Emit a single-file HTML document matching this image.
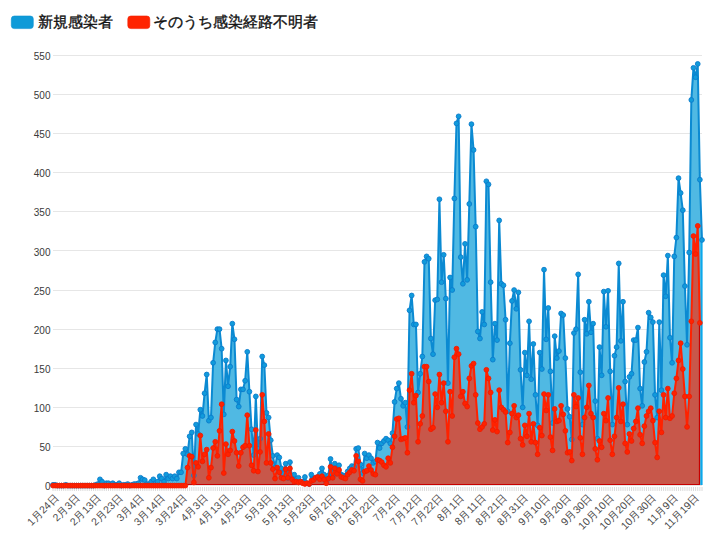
<!DOCTYPE html><html><head><meta charset="utf-8"><style>html,body{margin:0;padding:0;background:#fff;width:720px;height:534px;overflow:hidden}svg{display:block}text{font-family:"Liberation Sans",sans-serif}</style></head><body>
<svg width="720" height="534" viewBox="0 0 720 534">
<rect x="11.3" y="16" width="22" height="12.6" rx="3" fill="#0e9ad8" stroke="#0b90d0" stroke-width="0.6"/>
<text x="38" y="27.2" font-size="15" fill="#111" stroke="#111" stroke-width="0.35">新規感染者</text>
<rect x="127.8" y="16" width="22" height="12.6" rx="3" fill="#ff2400" stroke="#f01e00" stroke-width="0.6"/>
<text x="153" y="27.2" font-size="15" fill="#111" stroke="#111" stroke-width="0.35">そのうち感染経路不明者</text>
<line x1="53" x2="702" y1="485.50" y2="485.50" stroke="#e6e6e6" stroke-width="1"/>
<text x="50.5" y="490.20" font-size="10" fill="#3a3a3a" text-anchor="end">0</text>
<line x1="53" x2="702" y1="446.50" y2="446.50" stroke="#e6e6e6" stroke-width="1"/>
<text x="50.5" y="451.09" font-size="10" fill="#3a3a3a" text-anchor="end">50</text>
<line x1="53" x2="702" y1="407.50" y2="407.50" stroke="#e6e6e6" stroke-width="1"/>
<text x="50.5" y="411.97" font-size="10" fill="#3a3a3a" text-anchor="end">100</text>
<line x1="53" x2="702" y1="368.50" y2="368.50" stroke="#e6e6e6" stroke-width="1"/>
<text x="50.5" y="372.86" font-size="10" fill="#3a3a3a" text-anchor="end">150</text>
<line x1="53" x2="702" y1="329.50" y2="329.50" stroke="#e6e6e6" stroke-width="1"/>
<text x="50.5" y="333.74" font-size="10" fill="#3a3a3a" text-anchor="end">200</text>
<line x1="53" x2="702" y1="290.50" y2="290.50" stroke="#e6e6e6" stroke-width="1"/>
<text x="50.5" y="294.63" font-size="10" fill="#3a3a3a" text-anchor="end">250</text>
<line x1="53" x2="702" y1="250.50" y2="250.50" stroke="#e6e6e6" stroke-width="1"/>
<text x="50.5" y="255.51" font-size="10" fill="#3a3a3a" text-anchor="end">300</text>
<line x1="53" x2="702" y1="211.50" y2="211.50" stroke="#e6e6e6" stroke-width="1"/>
<text x="50.5" y="216.40" font-size="10" fill="#3a3a3a" text-anchor="end">350</text>
<line x1="53" x2="702" y1="172.50" y2="172.50" stroke="#e6e6e6" stroke-width="1"/>
<text x="50.5" y="177.28" font-size="10" fill="#3a3a3a" text-anchor="end">400</text>
<line x1="53" x2="702" y1="133.50" y2="133.50" stroke="#e6e6e6" stroke-width="1"/>
<text x="50.5" y="138.16" font-size="10" fill="#3a3a3a" text-anchor="end">450</text>
<line x1="53" x2="702" y1="94.50" y2="94.50" stroke="#e6e6e6" stroke-width="1"/>
<text x="50.5" y="99.05" font-size="10" fill="#3a3a3a" text-anchor="end">500</text>
<line x1="53" x2="702" y1="55.50" y2="55.50" stroke="#e6e6e6" stroke-width="1"/>
<text x="50.5" y="59.94" font-size="10" fill="#3a3a3a" text-anchor="end">550</text>
<line x1="53.00" x2="53.00" y1="487" y2="491" stroke="#d6d6d6" stroke-width="0.9"/>
<line x1="55.13" x2="55.13" y1="487" y2="491" stroke="#d6d6d6" stroke-width="0.9"/>
<line x1="57.27" x2="57.27" y1="487" y2="491" stroke="#d6d6d6" stroke-width="0.9"/>
<line x1="59.40" x2="59.40" y1="487" y2="491" stroke="#d6d6d6" stroke-width="0.9"/>
<line x1="61.54" x2="61.54" y1="487" y2="491" stroke="#d6d6d6" stroke-width="0.9"/>
<line x1="63.67" x2="63.67" y1="487" y2="491" stroke="#d6d6d6" stroke-width="0.9"/>
<line x1="65.81" x2="65.81" y1="487" y2="491" stroke="#d6d6d6" stroke-width="0.9"/>
<line x1="67.94" x2="67.94" y1="487" y2="491" stroke="#d6d6d6" stroke-width="0.9"/>
<line x1="70.08" x2="70.08" y1="487" y2="491" stroke="#d6d6d6" stroke-width="0.9"/>
<line x1="72.21" x2="72.21" y1="487" y2="491" stroke="#d6d6d6" stroke-width="0.9"/>
<line x1="74.35" x2="74.35" y1="487" y2="491" stroke="#d6d6d6" stroke-width="0.9"/>
<line x1="76.48" x2="76.48" y1="487" y2="491" stroke="#d6d6d6" stroke-width="0.9"/>
<line x1="78.62" x2="78.62" y1="487" y2="491" stroke="#d6d6d6" stroke-width="0.9"/>
<line x1="80.75" x2="80.75" y1="487" y2="491" stroke="#d6d6d6" stroke-width="0.9"/>
<line x1="82.89" x2="82.89" y1="487" y2="491" stroke="#d6d6d6" stroke-width="0.9"/>
<line x1="85.02" x2="85.02" y1="487" y2="491" stroke="#d6d6d6" stroke-width="0.9"/>
<line x1="87.16" x2="87.16" y1="487" y2="491" stroke="#d6d6d6" stroke-width="0.9"/>
<line x1="89.29" x2="89.29" y1="487" y2="491" stroke="#d6d6d6" stroke-width="0.9"/>
<line x1="91.43" x2="91.43" y1="487" y2="491" stroke="#d6d6d6" stroke-width="0.9"/>
<line x1="93.56" x2="93.56" y1="487" y2="491" stroke="#d6d6d6" stroke-width="0.9"/>
<line x1="95.70" x2="95.70" y1="487" y2="491" stroke="#d6d6d6" stroke-width="0.9"/>
<line x1="97.83" x2="97.83" y1="487" y2="491" stroke="#d6d6d6" stroke-width="0.9"/>
<line x1="99.97" x2="99.97" y1="487" y2="491" stroke="#d6d6d6" stroke-width="0.9"/>
<line x1="102.10" x2="102.10" y1="487" y2="491" stroke="#d6d6d6" stroke-width="0.9"/>
<line x1="104.24" x2="104.24" y1="487" y2="491" stroke="#d6d6d6" stroke-width="0.9"/>
<line x1="106.37" x2="106.37" y1="487" y2="491" stroke="#d6d6d6" stroke-width="0.9"/>
<line x1="108.51" x2="108.51" y1="487" y2="491" stroke="#d6d6d6" stroke-width="0.9"/>
<line x1="110.64" x2="110.64" y1="487" y2="491" stroke="#d6d6d6" stroke-width="0.9"/>
<line x1="112.78" x2="112.78" y1="487" y2="491" stroke="#d6d6d6" stroke-width="0.9"/>
<line x1="114.91" x2="114.91" y1="487" y2="491" stroke="#d6d6d6" stroke-width="0.9"/>
<line x1="117.05" x2="117.05" y1="487" y2="491" stroke="#d6d6d6" stroke-width="0.9"/>
<line x1="119.18" x2="119.18" y1="487" y2="491" stroke="#d6d6d6" stroke-width="0.9"/>
<line x1="121.32" x2="121.32" y1="487" y2="491" stroke="#d6d6d6" stroke-width="0.9"/>
<line x1="123.45" x2="123.45" y1="487" y2="491" stroke="#d6d6d6" stroke-width="0.9"/>
<line x1="125.59" x2="125.59" y1="487" y2="491" stroke="#d6d6d6" stroke-width="0.9"/>
<line x1="127.72" x2="127.72" y1="487" y2="491" stroke="#d6d6d6" stroke-width="0.9"/>
<line x1="129.86" x2="129.86" y1="487" y2="491" stroke="#d6d6d6" stroke-width="0.9"/>
<line x1="131.99" x2="131.99" y1="487" y2="491" stroke="#d6d6d6" stroke-width="0.9"/>
<line x1="134.12" x2="134.12" y1="487" y2="491" stroke="#d6d6d6" stroke-width="0.9"/>
<line x1="136.26" x2="136.26" y1="487" y2="491" stroke="#d6d6d6" stroke-width="0.9"/>
<line x1="138.39" x2="138.39" y1="487" y2="491" stroke="#d6d6d6" stroke-width="0.9"/>
<line x1="140.53" x2="140.53" y1="487" y2="491" stroke="#d6d6d6" stroke-width="0.9"/>
<line x1="142.66" x2="142.66" y1="487" y2="491" stroke="#d6d6d6" stroke-width="0.9"/>
<line x1="144.80" x2="144.80" y1="487" y2="491" stroke="#d6d6d6" stroke-width="0.9"/>
<line x1="146.93" x2="146.93" y1="487" y2="491" stroke="#d6d6d6" stroke-width="0.9"/>
<line x1="149.07" x2="149.07" y1="487" y2="491" stroke="#d6d6d6" stroke-width="0.9"/>
<line x1="151.20" x2="151.20" y1="487" y2="491" stroke="#d6d6d6" stroke-width="0.9"/>
<line x1="153.34" x2="153.34" y1="487" y2="491" stroke="#d6d6d6" stroke-width="0.9"/>
<line x1="155.47" x2="155.47" y1="487" y2="491" stroke="#d6d6d6" stroke-width="0.9"/>
<line x1="157.61" x2="157.61" y1="487" y2="491" stroke="#d6d6d6" stroke-width="0.9"/>
<line x1="159.74" x2="159.74" y1="487" y2="491" stroke="#d6d6d6" stroke-width="0.9"/>
<line x1="161.88" x2="161.88" y1="487" y2="491" stroke="#d6d6d6" stroke-width="0.9"/>
<line x1="164.01" x2="164.01" y1="487" y2="491" stroke="#d6d6d6" stroke-width="0.9"/>
<line x1="166.15" x2="166.15" y1="487" y2="491" stroke="#d6d6d6" stroke-width="0.9"/>
<line x1="168.28" x2="168.28" y1="487" y2="491" stroke="#d6d6d6" stroke-width="0.9"/>
<line x1="170.42" x2="170.42" y1="487" y2="491" stroke="#d6d6d6" stroke-width="0.9"/>
<line x1="172.55" x2="172.55" y1="487" y2="491" stroke="#d6d6d6" stroke-width="0.9"/>
<line x1="174.69" x2="174.69" y1="487" y2="491" stroke="#d6d6d6" stroke-width="0.9"/>
<line x1="176.82" x2="176.82" y1="487" y2="491" stroke="#d6d6d6" stroke-width="0.9"/>
<line x1="178.96" x2="178.96" y1="487" y2="491" stroke="#d6d6d6" stroke-width="0.9"/>
<line x1="181.09" x2="181.09" y1="487" y2="491" stroke="#d6d6d6" stroke-width="0.9"/>
<line x1="183.23" x2="183.23" y1="487" y2="491" stroke="#d6d6d6" stroke-width="0.9"/>
<line x1="185.36" x2="185.36" y1="487" y2="491" stroke="#d6d6d6" stroke-width="0.9"/>
<line x1="187.50" x2="187.50" y1="487" y2="491" stroke="#d6d6d6" stroke-width="0.9"/>
<line x1="189.63" x2="189.63" y1="487" y2="491" stroke="#d6d6d6" stroke-width="0.9"/>
<line x1="191.77" x2="191.77" y1="487" y2="491" stroke="#d6d6d6" stroke-width="0.9"/>
<line x1="193.90" x2="193.90" y1="487" y2="491" stroke="#d6d6d6" stroke-width="0.9"/>
<line x1="196.04" x2="196.04" y1="487" y2="491" stroke="#d6d6d6" stroke-width="0.9"/>
<line x1="198.17" x2="198.17" y1="487" y2="491" stroke="#d6d6d6" stroke-width="0.9"/>
<line x1="200.31" x2="200.31" y1="487" y2="491" stroke="#d6d6d6" stroke-width="0.9"/>
<line x1="202.44" x2="202.44" y1="487" y2="491" stroke="#d6d6d6" stroke-width="0.9"/>
<line x1="204.58" x2="204.58" y1="487" y2="491" stroke="#d6d6d6" stroke-width="0.9"/>
<line x1="206.71" x2="206.71" y1="487" y2="491" stroke="#d6d6d6" stroke-width="0.9"/>
<line x1="208.85" x2="208.85" y1="487" y2="491" stroke="#d6d6d6" stroke-width="0.9"/>
<line x1="210.98" x2="210.98" y1="487" y2="491" stroke="#d6d6d6" stroke-width="0.9"/>
<line x1="213.12" x2="213.12" y1="487" y2="491" stroke="#d6d6d6" stroke-width="0.9"/>
<line x1="215.25" x2="215.25" y1="487" y2="491" stroke="#d6d6d6" stroke-width="0.9"/>
<line x1="217.38" x2="217.38" y1="487" y2="491" stroke="#d6d6d6" stroke-width="0.9"/>
<line x1="219.52" x2="219.52" y1="487" y2="491" stroke="#d6d6d6" stroke-width="0.9"/>
<line x1="221.65" x2="221.65" y1="487" y2="491" stroke="#d6d6d6" stroke-width="0.9"/>
<line x1="223.79" x2="223.79" y1="487" y2="491" stroke="#d6d6d6" stroke-width="0.9"/>
<line x1="225.92" x2="225.92" y1="487" y2="491" stroke="#d6d6d6" stroke-width="0.9"/>
<line x1="228.06" x2="228.06" y1="487" y2="491" stroke="#d6d6d6" stroke-width="0.9"/>
<line x1="230.19" x2="230.19" y1="487" y2="491" stroke="#d6d6d6" stroke-width="0.9"/>
<line x1="232.33" x2="232.33" y1="487" y2="491" stroke="#d6d6d6" stroke-width="0.9"/>
<line x1="234.46" x2="234.46" y1="487" y2="491" stroke="#d6d6d6" stroke-width="0.9"/>
<line x1="236.60" x2="236.60" y1="487" y2="491" stroke="#d6d6d6" stroke-width="0.9"/>
<line x1="238.73" x2="238.73" y1="487" y2="491" stroke="#d6d6d6" stroke-width="0.9"/>
<line x1="240.87" x2="240.87" y1="487" y2="491" stroke="#d6d6d6" stroke-width="0.9"/>
<line x1="243.00" x2="243.00" y1="487" y2="491" stroke="#d6d6d6" stroke-width="0.9"/>
<line x1="245.14" x2="245.14" y1="487" y2="491" stroke="#d6d6d6" stroke-width="0.9"/>
<line x1="247.27" x2="247.27" y1="487" y2="491" stroke="#d6d6d6" stroke-width="0.9"/>
<line x1="249.41" x2="249.41" y1="487" y2="491" stroke="#d6d6d6" stroke-width="0.9"/>
<line x1="251.54" x2="251.54" y1="487" y2="491" stroke="#d6d6d6" stroke-width="0.9"/>
<line x1="253.68" x2="253.68" y1="487" y2="491" stroke="#d6d6d6" stroke-width="0.9"/>
<line x1="255.81" x2="255.81" y1="487" y2="491" stroke="#d6d6d6" stroke-width="0.9"/>
<line x1="257.95" x2="257.95" y1="487" y2="491" stroke="#d6d6d6" stroke-width="0.9"/>
<line x1="260.08" x2="260.08" y1="487" y2="491" stroke="#d6d6d6" stroke-width="0.9"/>
<line x1="262.22" x2="262.22" y1="487" y2="491" stroke="#d6d6d6" stroke-width="0.9"/>
<line x1="264.35" x2="264.35" y1="487" y2="491" stroke="#d6d6d6" stroke-width="0.9"/>
<line x1="266.49" x2="266.49" y1="487" y2="491" stroke="#d6d6d6" stroke-width="0.9"/>
<line x1="268.62" x2="268.62" y1="487" y2="491" stroke="#d6d6d6" stroke-width="0.9"/>
<line x1="270.76" x2="270.76" y1="487" y2="491" stroke="#d6d6d6" stroke-width="0.9"/>
<line x1="272.89" x2="272.89" y1="487" y2="491" stroke="#d6d6d6" stroke-width="0.9"/>
<line x1="275.03" x2="275.03" y1="487" y2="491" stroke="#d6d6d6" stroke-width="0.9"/>
<line x1="277.16" x2="277.16" y1="487" y2="491" stroke="#d6d6d6" stroke-width="0.9"/>
<line x1="279.30" x2="279.30" y1="487" y2="491" stroke="#d6d6d6" stroke-width="0.9"/>
<line x1="281.43" x2="281.43" y1="487" y2="491" stroke="#d6d6d6" stroke-width="0.9"/>
<line x1="283.57" x2="283.57" y1="487" y2="491" stroke="#d6d6d6" stroke-width="0.9"/>
<line x1="285.70" x2="285.70" y1="487" y2="491" stroke="#d6d6d6" stroke-width="0.9"/>
<line x1="287.84" x2="287.84" y1="487" y2="491" stroke="#d6d6d6" stroke-width="0.9"/>
<line x1="289.97" x2="289.97" y1="487" y2="491" stroke="#d6d6d6" stroke-width="0.9"/>
<line x1="292.11" x2="292.11" y1="487" y2="491" stroke="#d6d6d6" stroke-width="0.9"/>
<line x1="294.24" x2="294.24" y1="487" y2="491" stroke="#d6d6d6" stroke-width="0.9"/>
<line x1="296.38" x2="296.38" y1="487" y2="491" stroke="#d6d6d6" stroke-width="0.9"/>
<line x1="298.51" x2="298.51" y1="487" y2="491" stroke="#d6d6d6" stroke-width="0.9"/>
<line x1="300.64" x2="300.64" y1="487" y2="491" stroke="#d6d6d6" stroke-width="0.9"/>
<line x1="302.78" x2="302.78" y1="487" y2="491" stroke="#d6d6d6" stroke-width="0.9"/>
<line x1="304.91" x2="304.91" y1="487" y2="491" stroke="#d6d6d6" stroke-width="0.9"/>
<line x1="307.05" x2="307.05" y1="487" y2="491" stroke="#d6d6d6" stroke-width="0.9"/>
<line x1="309.18" x2="309.18" y1="487" y2="491" stroke="#d6d6d6" stroke-width="0.9"/>
<line x1="311.32" x2="311.32" y1="487" y2="491" stroke="#d6d6d6" stroke-width="0.9"/>
<line x1="313.45" x2="313.45" y1="487" y2="491" stroke="#d6d6d6" stroke-width="0.9"/>
<line x1="315.59" x2="315.59" y1="487" y2="491" stroke="#d6d6d6" stroke-width="0.9"/>
<line x1="317.72" x2="317.72" y1="487" y2="491" stroke="#d6d6d6" stroke-width="0.9"/>
<line x1="319.86" x2="319.86" y1="487" y2="491" stroke="#d6d6d6" stroke-width="0.9"/>
<line x1="321.99" x2="321.99" y1="487" y2="491" stroke="#d6d6d6" stroke-width="0.9"/>
<line x1="324.13" x2="324.13" y1="487" y2="491" stroke="#d6d6d6" stroke-width="0.9"/>
<line x1="326.26" x2="326.26" y1="487" y2="491" stroke="#d6d6d6" stroke-width="0.9"/>
<line x1="328.40" x2="328.40" y1="487" y2="491" stroke="#d6d6d6" stroke-width="0.9"/>
<line x1="330.53" x2="330.53" y1="487" y2="491" stroke="#d6d6d6" stroke-width="0.9"/>
<line x1="332.67" x2="332.67" y1="487" y2="491" stroke="#d6d6d6" stroke-width="0.9"/>
<line x1="334.80" x2="334.80" y1="487" y2="491" stroke="#d6d6d6" stroke-width="0.9"/>
<line x1="336.94" x2="336.94" y1="487" y2="491" stroke="#d6d6d6" stroke-width="0.9"/>
<line x1="339.07" x2="339.07" y1="487" y2="491" stroke="#d6d6d6" stroke-width="0.9"/>
<line x1="341.21" x2="341.21" y1="487" y2="491" stroke="#d6d6d6" stroke-width="0.9"/>
<line x1="343.34" x2="343.34" y1="487" y2="491" stroke="#d6d6d6" stroke-width="0.9"/>
<line x1="345.48" x2="345.48" y1="487" y2="491" stroke="#d6d6d6" stroke-width="0.9"/>
<line x1="347.61" x2="347.61" y1="487" y2="491" stroke="#d6d6d6" stroke-width="0.9"/>
<line x1="349.75" x2="349.75" y1="487" y2="491" stroke="#d6d6d6" stroke-width="0.9"/>
<line x1="351.88" x2="351.88" y1="487" y2="491" stroke="#d6d6d6" stroke-width="0.9"/>
<line x1="354.02" x2="354.02" y1="487" y2="491" stroke="#d6d6d6" stroke-width="0.9"/>
<line x1="356.15" x2="356.15" y1="487" y2="491" stroke="#d6d6d6" stroke-width="0.9"/>
<line x1="358.29" x2="358.29" y1="487" y2="491" stroke="#d6d6d6" stroke-width="0.9"/>
<line x1="360.42" x2="360.42" y1="487" y2="491" stroke="#d6d6d6" stroke-width="0.9"/>
<line x1="362.56" x2="362.56" y1="487" y2="491" stroke="#d6d6d6" stroke-width="0.9"/>
<line x1="364.69" x2="364.69" y1="487" y2="491" stroke="#d6d6d6" stroke-width="0.9"/>
<line x1="366.83" x2="366.83" y1="487" y2="491" stroke="#d6d6d6" stroke-width="0.9"/>
<line x1="368.96" x2="368.96" y1="487" y2="491" stroke="#d6d6d6" stroke-width="0.9"/>
<line x1="371.10" x2="371.10" y1="487" y2="491" stroke="#d6d6d6" stroke-width="0.9"/>
<line x1="373.23" x2="373.23" y1="487" y2="491" stroke="#d6d6d6" stroke-width="0.9"/>
<line x1="375.37" x2="375.37" y1="487" y2="491" stroke="#d6d6d6" stroke-width="0.9"/>
<line x1="377.50" x2="377.50" y1="487" y2="491" stroke="#d6d6d6" stroke-width="0.9"/>
<line x1="379.63" x2="379.63" y1="487" y2="491" stroke="#d6d6d6" stroke-width="0.9"/>
<line x1="381.77" x2="381.77" y1="487" y2="491" stroke="#d6d6d6" stroke-width="0.9"/>
<line x1="383.90" x2="383.90" y1="487" y2="491" stroke="#d6d6d6" stroke-width="0.9"/>
<line x1="386.04" x2="386.04" y1="487" y2="491" stroke="#d6d6d6" stroke-width="0.9"/>
<line x1="388.17" x2="388.17" y1="487" y2="491" stroke="#d6d6d6" stroke-width="0.9"/>
<line x1="390.31" x2="390.31" y1="487" y2="491" stroke="#d6d6d6" stroke-width="0.9"/>
<line x1="392.44" x2="392.44" y1="487" y2="491" stroke="#d6d6d6" stroke-width="0.9"/>
<line x1="394.58" x2="394.58" y1="487" y2="491" stroke="#d6d6d6" stroke-width="0.9"/>
<line x1="396.71" x2="396.71" y1="487" y2="491" stroke="#d6d6d6" stroke-width="0.9"/>
<line x1="398.85" x2="398.85" y1="487" y2="491" stroke="#d6d6d6" stroke-width="0.9"/>
<line x1="400.98" x2="400.98" y1="487" y2="491" stroke="#d6d6d6" stroke-width="0.9"/>
<line x1="403.12" x2="403.12" y1="487" y2="491" stroke="#d6d6d6" stroke-width="0.9"/>
<line x1="405.25" x2="405.25" y1="487" y2="491" stroke="#d6d6d6" stroke-width="0.9"/>
<line x1="407.39" x2="407.39" y1="487" y2="491" stroke="#d6d6d6" stroke-width="0.9"/>
<line x1="409.52" x2="409.52" y1="487" y2="491" stroke="#d6d6d6" stroke-width="0.9"/>
<line x1="411.66" x2="411.66" y1="487" y2="491" stroke="#d6d6d6" stroke-width="0.9"/>
<line x1="413.79" x2="413.79" y1="487" y2="491" stroke="#d6d6d6" stroke-width="0.9"/>
<line x1="415.93" x2="415.93" y1="487" y2="491" stroke="#d6d6d6" stroke-width="0.9"/>
<line x1="418.06" x2="418.06" y1="487" y2="491" stroke="#d6d6d6" stroke-width="0.9"/>
<line x1="420.20" x2="420.20" y1="487" y2="491" stroke="#d6d6d6" stroke-width="0.9"/>
<line x1="422.33" x2="422.33" y1="487" y2="491" stroke="#d6d6d6" stroke-width="0.9"/>
<line x1="424.47" x2="424.47" y1="487" y2="491" stroke="#d6d6d6" stroke-width="0.9"/>
<line x1="426.60" x2="426.60" y1="487" y2="491" stroke="#d6d6d6" stroke-width="0.9"/>
<line x1="428.74" x2="428.74" y1="487" y2="491" stroke="#d6d6d6" stroke-width="0.9"/>
<line x1="430.87" x2="430.87" y1="487" y2="491" stroke="#d6d6d6" stroke-width="0.9"/>
<line x1="433.01" x2="433.01" y1="487" y2="491" stroke="#d6d6d6" stroke-width="0.9"/>
<line x1="435.14" x2="435.14" y1="487" y2="491" stroke="#d6d6d6" stroke-width="0.9"/>
<line x1="437.28" x2="437.28" y1="487" y2="491" stroke="#d6d6d6" stroke-width="0.9"/>
<line x1="439.41" x2="439.41" y1="487" y2="491" stroke="#d6d6d6" stroke-width="0.9"/>
<line x1="441.55" x2="441.55" y1="487" y2="491" stroke="#d6d6d6" stroke-width="0.9"/>
<line x1="443.68" x2="443.68" y1="487" y2="491" stroke="#d6d6d6" stroke-width="0.9"/>
<line x1="445.82" x2="445.82" y1="487" y2="491" stroke="#d6d6d6" stroke-width="0.9"/>
<line x1="447.95" x2="447.95" y1="487" y2="491" stroke="#d6d6d6" stroke-width="0.9"/>
<line x1="450.09" x2="450.09" y1="487" y2="491" stroke="#d6d6d6" stroke-width="0.9"/>
<line x1="452.22" x2="452.22" y1="487" y2="491" stroke="#d6d6d6" stroke-width="0.9"/>
<line x1="454.36" x2="454.36" y1="487" y2="491" stroke="#d6d6d6" stroke-width="0.9"/>
<line x1="456.49" x2="456.49" y1="487" y2="491" stroke="#d6d6d6" stroke-width="0.9"/>
<line x1="458.62" x2="458.62" y1="487" y2="491" stroke="#d6d6d6" stroke-width="0.9"/>
<line x1="460.76" x2="460.76" y1="487" y2="491" stroke="#d6d6d6" stroke-width="0.9"/>
<line x1="462.89" x2="462.89" y1="487" y2="491" stroke="#d6d6d6" stroke-width="0.9"/>
<line x1="465.03" x2="465.03" y1="487" y2="491" stroke="#d6d6d6" stroke-width="0.9"/>
<line x1="467.16" x2="467.16" y1="487" y2="491" stroke="#d6d6d6" stroke-width="0.9"/>
<line x1="469.30" x2="469.30" y1="487" y2="491" stroke="#d6d6d6" stroke-width="0.9"/>
<line x1="471.43" x2="471.43" y1="487" y2="491" stroke="#d6d6d6" stroke-width="0.9"/>
<line x1="473.57" x2="473.57" y1="487" y2="491" stroke="#d6d6d6" stroke-width="0.9"/>
<line x1="475.70" x2="475.70" y1="487" y2="491" stroke="#d6d6d6" stroke-width="0.9"/>
<line x1="477.84" x2="477.84" y1="487" y2="491" stroke="#d6d6d6" stroke-width="0.9"/>
<line x1="479.97" x2="479.97" y1="487" y2="491" stroke="#d6d6d6" stroke-width="0.9"/>
<line x1="482.11" x2="482.11" y1="487" y2="491" stroke="#d6d6d6" stroke-width="0.9"/>
<line x1="484.24" x2="484.24" y1="487" y2="491" stroke="#d6d6d6" stroke-width="0.9"/>
<line x1="486.38" x2="486.38" y1="487" y2="491" stroke="#d6d6d6" stroke-width="0.9"/>
<line x1="488.51" x2="488.51" y1="487" y2="491" stroke="#d6d6d6" stroke-width="0.9"/>
<line x1="490.65" x2="490.65" y1="487" y2="491" stroke="#d6d6d6" stroke-width="0.9"/>
<line x1="492.78" x2="492.78" y1="487" y2="491" stroke="#d6d6d6" stroke-width="0.9"/>
<line x1="494.92" x2="494.92" y1="487" y2="491" stroke="#d6d6d6" stroke-width="0.9"/>
<line x1="497.05" x2="497.05" y1="487" y2="491" stroke="#d6d6d6" stroke-width="0.9"/>
<line x1="499.19" x2="499.19" y1="487" y2="491" stroke="#d6d6d6" stroke-width="0.9"/>
<line x1="501.32" x2="501.32" y1="487" y2="491" stroke="#d6d6d6" stroke-width="0.9"/>
<line x1="503.46" x2="503.46" y1="487" y2="491" stroke="#d6d6d6" stroke-width="0.9"/>
<line x1="505.59" x2="505.59" y1="487" y2="491" stroke="#d6d6d6" stroke-width="0.9"/>
<line x1="507.73" x2="507.73" y1="487" y2="491" stroke="#d6d6d6" stroke-width="0.9"/>
<line x1="509.86" x2="509.86" y1="487" y2="491" stroke="#d6d6d6" stroke-width="0.9"/>
<line x1="512.00" x2="512.00" y1="487" y2="491" stroke="#d6d6d6" stroke-width="0.9"/>
<line x1="514.13" x2="514.13" y1="487" y2="491" stroke="#d6d6d6" stroke-width="0.9"/>
<line x1="516.27" x2="516.27" y1="487" y2="491" stroke="#d6d6d6" stroke-width="0.9"/>
<line x1="518.40" x2="518.40" y1="487" y2="491" stroke="#d6d6d6" stroke-width="0.9"/>
<line x1="520.54" x2="520.54" y1="487" y2="491" stroke="#d6d6d6" stroke-width="0.9"/>
<line x1="522.67" x2="522.67" y1="487" y2="491" stroke="#d6d6d6" stroke-width="0.9"/>
<line x1="524.81" x2="524.81" y1="487" y2="491" stroke="#d6d6d6" stroke-width="0.9"/>
<line x1="526.94" x2="526.94" y1="487" y2="491" stroke="#d6d6d6" stroke-width="0.9"/>
<line x1="529.08" x2="529.08" y1="487" y2="491" stroke="#d6d6d6" stroke-width="0.9"/>
<line x1="531.21" x2="531.21" y1="487" y2="491" stroke="#d6d6d6" stroke-width="0.9"/>
<line x1="533.35" x2="533.35" y1="487" y2="491" stroke="#d6d6d6" stroke-width="0.9"/>
<line x1="535.48" x2="535.48" y1="487" y2="491" stroke="#d6d6d6" stroke-width="0.9"/>
<line x1="537.62" x2="537.62" y1="487" y2="491" stroke="#d6d6d6" stroke-width="0.9"/>
<line x1="539.75" x2="539.75" y1="487" y2="491" stroke="#d6d6d6" stroke-width="0.9"/>
<line x1="541.88" x2="541.88" y1="487" y2="491" stroke="#d6d6d6" stroke-width="0.9"/>
<line x1="544.02" x2="544.02" y1="487" y2="491" stroke="#d6d6d6" stroke-width="0.9"/>
<line x1="546.15" x2="546.15" y1="487" y2="491" stroke="#d6d6d6" stroke-width="0.9"/>
<line x1="548.29" x2="548.29" y1="487" y2="491" stroke="#d6d6d6" stroke-width="0.9"/>
<line x1="550.42" x2="550.42" y1="487" y2="491" stroke="#d6d6d6" stroke-width="0.9"/>
<line x1="552.56" x2="552.56" y1="487" y2="491" stroke="#d6d6d6" stroke-width="0.9"/>
<line x1="554.69" x2="554.69" y1="487" y2="491" stroke="#d6d6d6" stroke-width="0.9"/>
<line x1="556.83" x2="556.83" y1="487" y2="491" stroke="#d6d6d6" stroke-width="0.9"/>
<line x1="558.96" x2="558.96" y1="487" y2="491" stroke="#d6d6d6" stroke-width="0.9"/>
<line x1="561.10" x2="561.10" y1="487" y2="491" stroke="#d6d6d6" stroke-width="0.9"/>
<line x1="563.23" x2="563.23" y1="487" y2="491" stroke="#d6d6d6" stroke-width="0.9"/>
<line x1="565.37" x2="565.37" y1="487" y2="491" stroke="#d6d6d6" stroke-width="0.9"/>
<line x1="567.50" x2="567.50" y1="487" y2="491" stroke="#d6d6d6" stroke-width="0.9"/>
<line x1="569.64" x2="569.64" y1="487" y2="491" stroke="#d6d6d6" stroke-width="0.9"/>
<line x1="571.77" x2="571.77" y1="487" y2="491" stroke="#d6d6d6" stroke-width="0.9"/>
<line x1="573.91" x2="573.91" y1="487" y2="491" stroke="#d6d6d6" stroke-width="0.9"/>
<line x1="576.04" x2="576.04" y1="487" y2="491" stroke="#d6d6d6" stroke-width="0.9"/>
<line x1="578.18" x2="578.18" y1="487" y2="491" stroke="#d6d6d6" stroke-width="0.9"/>
<line x1="580.31" x2="580.31" y1="487" y2="491" stroke="#d6d6d6" stroke-width="0.9"/>
<line x1="582.45" x2="582.45" y1="487" y2="491" stroke="#d6d6d6" stroke-width="0.9"/>
<line x1="584.58" x2="584.58" y1="487" y2="491" stroke="#d6d6d6" stroke-width="0.9"/>
<line x1="586.72" x2="586.72" y1="487" y2="491" stroke="#d6d6d6" stroke-width="0.9"/>
<line x1="588.85" x2="588.85" y1="487" y2="491" stroke="#d6d6d6" stroke-width="0.9"/>
<line x1="590.99" x2="590.99" y1="487" y2="491" stroke="#d6d6d6" stroke-width="0.9"/>
<line x1="593.12" x2="593.12" y1="487" y2="491" stroke="#d6d6d6" stroke-width="0.9"/>
<line x1="595.26" x2="595.26" y1="487" y2="491" stroke="#d6d6d6" stroke-width="0.9"/>
<line x1="597.39" x2="597.39" y1="487" y2="491" stroke="#d6d6d6" stroke-width="0.9"/>
<line x1="599.53" x2="599.53" y1="487" y2="491" stroke="#d6d6d6" stroke-width="0.9"/>
<line x1="601.66" x2="601.66" y1="487" y2="491" stroke="#d6d6d6" stroke-width="0.9"/>
<line x1="603.80" x2="603.80" y1="487" y2="491" stroke="#d6d6d6" stroke-width="0.9"/>
<line x1="605.93" x2="605.93" y1="487" y2="491" stroke="#d6d6d6" stroke-width="0.9"/>
<line x1="608.07" x2="608.07" y1="487" y2="491" stroke="#d6d6d6" stroke-width="0.9"/>
<line x1="610.20" x2="610.20" y1="487" y2="491" stroke="#d6d6d6" stroke-width="0.9"/>
<line x1="612.34" x2="612.34" y1="487" y2="491" stroke="#d6d6d6" stroke-width="0.9"/>
<line x1="614.47" x2="614.47" y1="487" y2="491" stroke="#d6d6d6" stroke-width="0.9"/>
<line x1="616.61" x2="616.61" y1="487" y2="491" stroke="#d6d6d6" stroke-width="0.9"/>
<line x1="618.74" x2="618.74" y1="487" y2="491" stroke="#d6d6d6" stroke-width="0.9"/>
<line x1="620.88" x2="620.88" y1="487" y2="491" stroke="#d6d6d6" stroke-width="0.9"/>
<line x1="623.01" x2="623.01" y1="487" y2="491" stroke="#d6d6d6" stroke-width="0.9"/>
<line x1="625.14" x2="625.14" y1="487" y2="491" stroke="#d6d6d6" stroke-width="0.9"/>
<line x1="627.28" x2="627.28" y1="487" y2="491" stroke="#d6d6d6" stroke-width="0.9"/>
<line x1="629.41" x2="629.41" y1="487" y2="491" stroke="#d6d6d6" stroke-width="0.9"/>
<line x1="631.55" x2="631.55" y1="487" y2="491" stroke="#d6d6d6" stroke-width="0.9"/>
<line x1="633.68" x2="633.68" y1="487" y2="491" stroke="#d6d6d6" stroke-width="0.9"/>
<line x1="635.82" x2="635.82" y1="487" y2="491" stroke="#d6d6d6" stroke-width="0.9"/>
<line x1="637.95" x2="637.95" y1="487" y2="491" stroke="#d6d6d6" stroke-width="0.9"/>
<line x1="640.09" x2="640.09" y1="487" y2="491" stroke="#d6d6d6" stroke-width="0.9"/>
<line x1="642.22" x2="642.22" y1="487" y2="491" stroke="#d6d6d6" stroke-width="0.9"/>
<line x1="644.36" x2="644.36" y1="487" y2="491" stroke="#d6d6d6" stroke-width="0.9"/>
<line x1="646.49" x2="646.49" y1="487" y2="491" stroke="#d6d6d6" stroke-width="0.9"/>
<line x1="648.63" x2="648.63" y1="487" y2="491" stroke="#d6d6d6" stroke-width="0.9"/>
<line x1="650.76" x2="650.76" y1="487" y2="491" stroke="#d6d6d6" stroke-width="0.9"/>
<line x1="652.90" x2="652.90" y1="487" y2="491" stroke="#d6d6d6" stroke-width="0.9"/>
<line x1="655.03" x2="655.03" y1="487" y2="491" stroke="#d6d6d6" stroke-width="0.9"/>
<line x1="657.17" x2="657.17" y1="487" y2="491" stroke="#d6d6d6" stroke-width="0.9"/>
<line x1="659.30" x2="659.30" y1="487" y2="491" stroke="#d6d6d6" stroke-width="0.9"/>
<line x1="661.44" x2="661.44" y1="487" y2="491" stroke="#d6d6d6" stroke-width="0.9"/>
<line x1="663.57" x2="663.57" y1="487" y2="491" stroke="#d6d6d6" stroke-width="0.9"/>
<line x1="665.71" x2="665.71" y1="487" y2="491" stroke="#d6d6d6" stroke-width="0.9"/>
<line x1="667.84" x2="667.84" y1="487" y2="491" stroke="#d6d6d6" stroke-width="0.9"/>
<line x1="669.98" x2="669.98" y1="487" y2="491" stroke="#d6d6d6" stroke-width="0.9"/>
<line x1="672.11" x2="672.11" y1="487" y2="491" stroke="#d6d6d6" stroke-width="0.9"/>
<line x1="674.25" x2="674.25" y1="487" y2="491" stroke="#d6d6d6" stroke-width="0.9"/>
<line x1="676.38" x2="676.38" y1="487" y2="491" stroke="#d6d6d6" stroke-width="0.9"/>
<line x1="678.52" x2="678.52" y1="487" y2="491" stroke="#d6d6d6" stroke-width="0.9"/>
<line x1="680.65" x2="680.65" y1="487" y2="491" stroke="#d6d6d6" stroke-width="0.9"/>
<line x1="682.79" x2="682.79" y1="487" y2="491" stroke="#d6d6d6" stroke-width="0.9"/>
<line x1="684.92" x2="684.92" y1="487" y2="491" stroke="#d6d6d6" stroke-width="0.9"/>
<line x1="687.06" x2="687.06" y1="487" y2="491" stroke="#d6d6d6" stroke-width="0.9"/>
<line x1="689.19" x2="689.19" y1="487" y2="491" stroke="#d6d6d6" stroke-width="0.9"/>
<line x1="691.33" x2="691.33" y1="487" y2="491" stroke="#d6d6d6" stroke-width="0.9"/>
<line x1="693.46" x2="693.46" y1="487" y2="491" stroke="#d6d6d6" stroke-width="0.9"/>
<line x1="695.60" x2="695.60" y1="487" y2="491" stroke="#d6d6d6" stroke-width="0.9"/>
<line x1="697.73" x2="697.73" y1="487" y2="491" stroke="#d6d6d6" stroke-width="0.9"/>
<line x1="699.87" x2="699.87" y1="487" y2="491" stroke="#d6d6d6" stroke-width="0.9"/>
<line x1="702.00" x2="702.00" y1="487" y2="491" stroke="#d6d6d6" stroke-width="0.9"/>
<text transform="translate(59.50,498.3) rotate(-45)" font-size="10.5" fill="#4a4a4a" text-anchor="end">1月24日</text>
<text transform="translate(80.85,498.3) rotate(-45)" font-size="10.5" fill="#4a4a4a" text-anchor="end">2月3日</text>
<text transform="translate(102.20,498.3) rotate(-45)" font-size="10.5" fill="#4a4a4a" text-anchor="end">2月13日</text>
<text transform="translate(123.55,498.3) rotate(-45)" font-size="10.5" fill="#4a4a4a" text-anchor="end">2月23日</text>
<text transform="translate(144.89,498.3) rotate(-45)" font-size="10.5" fill="#4a4a4a" text-anchor="end">3月4日</text>
<text transform="translate(166.24,498.3) rotate(-45)" font-size="10.5" fill="#4a4a4a" text-anchor="end">3月14日</text>
<text transform="translate(187.59,498.3) rotate(-45)" font-size="10.5" fill="#4a4a4a" text-anchor="end">3月24日</text>
<text transform="translate(208.94,498.3) rotate(-45)" font-size="10.5" fill="#4a4a4a" text-anchor="end">4月3日</text>
<text transform="translate(230.29,498.3) rotate(-45)" font-size="10.5" fill="#4a4a4a" text-anchor="end">4月13日</text>
<text transform="translate(251.64,498.3) rotate(-45)" font-size="10.5" fill="#4a4a4a" text-anchor="end">4月23日</text>
<text transform="translate(272.99,498.3) rotate(-45)" font-size="10.5" fill="#4a4a4a" text-anchor="end">5月3日</text>
<text transform="translate(294.34,498.3) rotate(-45)" font-size="10.5" fill="#4a4a4a" text-anchor="end">5月13日</text>
<text transform="translate(315.68,498.3) rotate(-45)" font-size="10.5" fill="#4a4a4a" text-anchor="end">5月23日</text>
<text transform="translate(337.03,498.3) rotate(-45)" font-size="10.5" fill="#4a4a4a" text-anchor="end">6月2日</text>
<text transform="translate(358.38,498.3) rotate(-45)" font-size="10.5" fill="#4a4a4a" text-anchor="end">6月12日</text>
<text transform="translate(379.73,498.3) rotate(-45)" font-size="10.5" fill="#4a4a4a" text-anchor="end">6月22日</text>
<text transform="translate(401.08,498.3) rotate(-45)" font-size="10.5" fill="#4a4a4a" text-anchor="end">7月2日</text>
<text transform="translate(422.43,498.3) rotate(-45)" font-size="10.5" fill="#4a4a4a" text-anchor="end">7月12日</text>
<text transform="translate(443.78,498.3) rotate(-45)" font-size="10.5" fill="#4a4a4a" text-anchor="end">7月22日</text>
<text transform="translate(465.12,498.3) rotate(-45)" font-size="10.5" fill="#4a4a4a" text-anchor="end">8月1日</text>
<text transform="translate(486.47,498.3) rotate(-45)" font-size="10.5" fill="#4a4a4a" text-anchor="end">8月11日</text>
<text transform="translate(507.82,498.3) rotate(-45)" font-size="10.5" fill="#4a4a4a" text-anchor="end">8月21日</text>
<text transform="translate(529.17,498.3) rotate(-45)" font-size="10.5" fill="#4a4a4a" text-anchor="end">8月31日</text>
<text transform="translate(550.52,498.3) rotate(-45)" font-size="10.5" fill="#4a4a4a" text-anchor="end">9月10日</text>
<text transform="translate(571.87,498.3) rotate(-45)" font-size="10.5" fill="#4a4a4a" text-anchor="end">9月20日</text>
<text transform="translate(593.22,498.3) rotate(-45)" font-size="10.5" fill="#4a4a4a" text-anchor="end">9月30日</text>
<text transform="translate(614.57,498.3) rotate(-45)" font-size="10.5" fill="#4a4a4a" text-anchor="end">10月10日</text>
<text transform="translate(635.91,498.3) rotate(-45)" font-size="10.5" fill="#4a4a4a" text-anchor="end">10月20日</text>
<text transform="translate(657.26,498.3) rotate(-45)" font-size="10.5" fill="#4a4a4a" text-anchor="end">10月30日</text>
<text transform="translate(678.61,498.3) rotate(-45)" font-size="10.5" fill="#4a4a4a" text-anchor="end">11月9日</text>
<text transform="translate(699.96,498.3) rotate(-45)" font-size="10.5" fill="#4a4a4a" text-anchor="end">11月19日</text>
<polygon points="53.00,484.82 55.13,484.82 57.27,485.60 59.40,485.60 61.54,485.60 63.67,485.60 65.81,484.82 67.94,485.60 70.08,485.60 72.21,485.60 74.35,485.60 76.48,485.60 78.62,485.60 80.75,485.60 82.89,485.60 85.02,485.60 87.16,485.60 89.29,485.60 91.43,485.60 93.56,485.60 95.70,484.82 97.83,484.04 99.97,479.34 102.10,481.69 104.24,485.60 106.37,483.25 108.51,483.25 110.64,484.82 112.78,483.25 114.91,484.82 117.05,484.82 119.18,483.25 121.32,485.60 123.45,484.82 125.59,484.82 127.72,484.04 129.86,485.60 131.99,484.82 134.12,484.04 136.26,484.04 138.39,483.25 140.53,477.78 142.66,479.34 144.80,480.12 146.93,484.04 149.07,484.04 151.20,481.69 153.34,479.34 155.47,483.25 157.61,481.69 159.74,476.21 161.88,478.56 164.01,481.69 166.15,474.65 168.28,478.56 170.42,476.21 172.55,478.56 174.69,476.21 176.82,478.56 178.96,472.30 181.09,472.30 183.23,453.53 185.36,448.83 187.50,454.31 189.63,436.32 191.77,432.40 193.90,475.43 196.04,424.58 198.17,433.97 200.31,409.72 202.44,415.98 204.58,393.29 206.71,374.51 208.85,420.67 210.98,417.54 213.12,362.78 215.25,342.44 217.38,329.14 219.52,329.14 221.65,348.70 223.79,414.41 225.92,360.43 228.06,386.25 230.19,366.69 232.33,323.66 234.46,339.31 236.60,399.55 238.73,406.59 240.87,389.38 243.00,389.38 245.14,380.77 247.27,351.83 249.41,391.72 251.54,429.27 253.68,455.09 255.81,396.42 257.95,448.83 260.08,438.66 262.22,356.52 264.35,365.13 266.49,412.85 268.62,417.54 270.76,440.23 272.89,455.87 275.03,467.61 277.16,455.09 279.30,457.44 281.43,468.39 283.57,473.87 285.70,463.70 287.84,477.78 289.97,462.13 292.11,478.56 294.24,474.65 296.38,481.69 298.51,477.78 300.64,481.69 302.78,481.69 304.91,476.99 307.05,483.25 309.18,484.04 311.32,474.65 313.45,479.34 315.59,477.78 317.72,476.99 319.86,473.87 321.99,468.39 324.13,474.65 326.26,481.69 328.40,475.43 330.53,459.00 332.67,476.21 334.80,463.70 336.94,469.95 339.07,465.26 341.21,474.65 343.34,475.43 345.48,476.21 347.61,471.52 349.75,468.39 351.88,466.04 354.02,466.82 356.15,448.83 358.29,448.05 360.42,464.48 362.56,473.08 364.69,453.53 366.83,458.22 368.96,455.09 371.10,458.22 373.23,462.91 375.37,461.35 377.50,442.57 379.63,448.05 381.77,443.36 383.90,441.01 386.04,438.66 388.17,440.23 390.31,443.36 392.44,433.19 394.58,401.89 396.71,388.59 398.85,383.12 400.98,398.76 403.12,405.81 405.25,402.68 407.39,426.93 409.52,310.36 411.66,295.50 413.79,324.45 415.93,324.45 418.06,392.51 420.20,373.73 422.33,356.52 424.47,261.86 426.60,256.39 428.74,258.73 430.87,338.53 433.01,354.17 435.14,300.19 437.28,299.41 439.41,199.28 441.55,282.20 443.68,254.82 445.82,298.63 447.95,383.12 450.09,277.51 452.22,290.03 454.36,198.50 456.49,123.40 458.62,116.35 460.76,257.17 462.89,283.77 465.03,243.87 467.16,279.86 469.30,203.97 471.43,124.18 473.57,149.99 475.70,226.66 477.84,331.49 479.97,338.53 482.11,311.93 484.24,324.45 486.38,181.29 488.51,184.41 490.65,282.20 492.78,359.65 494.92,323.66 497.05,340.09 499.19,220.40 501.32,283.77 503.46,285.33 505.59,319.75 507.73,411.28 509.86,343.22 512.00,300.98 514.13,290.03 516.27,308.80 518.40,292.37 520.54,369.82 522.67,407.37 524.81,352.61 526.94,375.30 529.08,321.32 531.21,379.21 533.35,344.00 535.48,394.85 537.62,425.36 539.75,352.61 541.88,369.04 544.02,269.69 546.15,339.31 548.29,308.02 550.42,371.38 552.56,423.02 554.69,336.18 556.83,358.09 558.96,351.04 561.10,313.49 563.23,315.06 565.37,358.09 567.50,408.93 569.64,416.76 571.77,439.44 573.91,333.05 576.04,329.14 578.18,274.38 580.31,372.17 582.45,424.58 584.58,319.75 586.72,333.83 588.85,301.76 590.99,332.27 593.12,323.66 595.26,401.11 597.39,438.66 599.53,347.13 601.66,375.30 603.80,291.59 605.93,326.79 608.07,290.81 610.20,371.38 612.34,424.58 614.47,355.74 616.61,347.13 618.74,263.43 620.88,340.87 623.01,301.76 625.14,381.55 627.28,424.58 629.41,376.86 631.55,373.73 633.68,340.09 635.82,340.09 637.95,327.58 640.09,388.59 642.22,405.81 644.36,362.00 646.49,351.83 648.63,312.71 650.76,317.41 652.90,322.10 655.03,394.85 657.17,417.54 659.30,322.10 661.44,390.16 663.57,275.16 665.71,296.28 667.84,255.60 669.98,337.75 672.11,362.78 674.25,256.39 676.38,237.61 678.52,178.16 680.65,193.02 682.79,210.23 684.92,286.11 687.06,344.79 689.19,252.47 691.33,99.93 693.46,67.85 695.60,77.24 697.73,63.94 699.87,179.72 702.00,239.96 702.00,485.00 53.00,485.00" fill="#50b9e3"/>
<polygon points="53.00,485.60 55.13,485.60 57.27,485.60 59.40,485.60 61.54,485.60 63.67,485.60 65.81,485.60 67.94,485.60 70.08,485.60 72.21,485.60 74.35,485.60 76.48,485.60 78.62,485.60 80.75,485.60 82.89,485.60 85.02,485.60 87.16,485.60 89.29,485.60 91.43,485.60 93.56,485.60 95.70,485.60 97.83,485.60 99.97,485.60 102.10,485.60 104.24,485.60 106.37,485.60 108.51,485.60 110.64,485.60 112.78,485.60 114.91,485.60 117.05,485.60 119.18,485.60 121.32,485.60 123.45,485.60 125.59,485.60 127.72,485.60 129.86,485.60 131.99,485.60 134.12,485.60 136.26,485.60 138.39,485.60 140.53,485.60 142.66,485.60 144.80,485.60 146.93,485.60 149.07,485.60 151.20,485.60 153.34,485.60 155.47,485.60 157.61,485.60 159.74,485.60 161.88,485.60 164.01,485.60 166.15,485.60 168.28,485.60 170.42,485.60 172.55,485.60 174.69,485.60 176.82,485.60 178.96,485.60 181.09,485.60 183.23,485.60 185.36,485.60 187.50,467.61 189.63,455.87 191.77,456.65 193.90,482.47 196.04,462.91 198.17,466.82 200.31,435.53 202.44,461.35 204.58,454.31 206.71,449.61 208.85,477.78 210.98,467.61 213.12,448.05 215.25,441.79 217.38,455.87 219.52,430.84 221.65,404.24 223.79,473.08 225.92,444.14 228.06,454.31 230.19,450.40 232.33,431.62 234.46,441.01 236.60,452.74 238.73,466.04 240.87,452.74 243.00,447.27 245.14,445.70 247.27,415.19 249.41,445.70 251.54,465.26 253.68,470.74 255.81,430.06 257.95,471.52 260.08,451.96 262.22,394.85 264.35,421.45 266.49,462.91 268.62,433.97 270.76,462.91 272.89,469.17 275.03,478.56 277.16,467.61 279.30,472.30 281.43,477.78 283.57,478.56 285.70,469.17 287.84,477.78 289.97,468.39 292.11,479.34 294.24,481.69 296.38,481.69 298.51,482.47 300.64,481.69 302.78,483.25 304.91,484.04 307.05,483.25 309.18,484.04 311.32,480.91 313.45,480.12 315.59,477.78 317.72,476.99 319.86,479.34 321.99,476.21 324.13,479.34 326.26,483.25 328.40,478.56 330.53,466.82 332.67,477.78 334.80,468.39 336.94,473.87 339.07,469.95 341.21,476.99 343.34,477.78 345.48,478.56 347.61,474.65 349.75,472.30 351.88,469.95 354.02,470.74 356.15,455.87 358.29,461.35 360.42,479.34 362.56,480.91 364.69,471.52 366.83,470.74 368.96,466.04 371.10,469.95 373.23,473.87 375.37,474.65 377.50,459.78 379.63,460.57 381.77,462.13 383.90,465.26 386.04,466.82 388.17,458.22 390.31,462.91 392.44,447.27 394.58,436.32 396.71,419.10 398.85,418.32 400.98,439.44 403.12,438.66 405.25,437.88 407.39,452.74 409.52,390.16 411.66,373.73 413.79,402.68 415.93,395.64 418.06,441.79 420.20,423.80 422.33,415.98 424.47,366.69 426.60,366.69 428.74,381.55 430.87,429.27 433.01,427.71 435.14,394.07 437.28,407.37 439.41,374.51 441.55,402.68 443.68,383.12 445.82,411.28 447.95,441.79 450.09,391.72 452.22,415.98 454.36,357.30 456.49,348.70 458.62,354.17 460.76,396.42 462.89,391.72 465.03,403.46 467.16,406.59 469.30,378.42 471.43,365.91 473.57,363.56 475.70,394.85 477.84,423.02 479.97,429.27 482.11,426.93 484.24,423.80 486.38,369.82 488.51,378.42 490.65,392.51 492.78,430.06 494.92,419.89 497.05,431.62 499.19,390.16 501.32,407.37 503.46,409.72 505.59,412.06 507.73,442.57 509.86,432.40 512.00,413.63 514.13,405.81 516.27,417.54 518.40,415.19 520.54,438.66 522.67,444.92 524.81,425.36 526.94,436.32 529.08,413.63 531.21,441.79 533.35,423.80 535.48,442.57 537.62,454.31 539.75,427.71 541.88,435.53 544.02,394.07 546.15,410.50 548.29,394.85 550.42,437.10 552.56,450.40 554.69,408.93 556.83,421.45 558.96,420.67 561.10,405.81 563.23,414.41 565.37,430.84 567.50,452.74 569.64,451.96 571.77,460.57 573.91,394.85 576.04,406.59 578.18,397.98 580.31,437.88 582.45,454.31 584.58,417.54 586.72,407.37 588.85,385.47 590.99,413.63 593.12,417.54 595.26,448.83 597.39,459.78 599.53,441.01 601.66,447.27 603.80,413.63 605.93,420.67 608.07,397.98 610.20,440.23 612.34,454.31 614.47,436.32 616.61,417.54 618.74,387.81 620.88,421.45 623.01,404.24 625.14,443.36 627.28,451.96 629.41,433.97 631.55,441.01 633.68,428.49 635.82,421.45 637.95,408.15 640.09,434.75 642.22,443.36 644.36,426.15 646.49,415.98 648.63,411.28 650.76,408.15 652.90,420.67 655.03,442.57 657.17,457.44 659.30,411.28 661.44,432.40 663.57,394.85 665.71,417.54 667.84,388.59 669.98,418.32 672.11,415.98 674.25,393.29 676.38,378.42 678.52,360.43 680.65,343.22 682.79,369.04 684.92,396.42 687.06,426.93 689.19,396.42 691.33,321.32 693.46,236.05 695.60,254.04 697.73,225.88 699.87,322.88 699.87,485.00 53.00,485.00" fill="#c8574a"/>
<polyline points="52.00,484.5 699.47,484.5 699.47,322.88" fill="none" stroke="#c80000" stroke-width="1.2"/>
<line x1="701.70" x2="701.70" y1="239.96" y2="485.0" stroke="#0aa8ec" stroke-width="1.8"/>
<polyline points="53.00,484.82 55.13,484.82 57.27,485.60 59.40,485.60 61.54,485.60 63.67,485.60 65.81,484.82 67.94,485.60 70.08,485.60 72.21,485.60 74.35,485.60 76.48,485.60 78.62,485.60 80.75,485.60 82.89,485.60 85.02,485.60 87.16,485.60 89.29,485.60 91.43,485.60 93.56,485.60 95.70,484.82 97.83,484.04 99.97,479.34 102.10,481.69 104.24,485.60 106.37,483.25 108.51,483.25 110.64,484.82 112.78,483.25 114.91,484.82 117.05,484.82 119.18,483.25 121.32,485.60 123.45,484.82 125.59,484.82 127.72,484.04 129.86,485.60 131.99,484.82 134.12,484.04 136.26,484.04 138.39,483.25 140.53,477.78 142.66,479.34 144.80,480.12 146.93,484.04 149.07,484.04 151.20,481.69 153.34,479.34 155.47,483.25 157.61,481.69 159.74,476.21 161.88,478.56 164.01,481.69 166.15,474.65 168.28,478.56 170.42,476.21 172.55,478.56 174.69,476.21 176.82,478.56 178.96,472.30 181.09,472.30 183.23,453.53 185.36,448.83 187.50,454.31 189.63,436.32 191.77,432.40 193.90,475.43 196.04,424.58 198.17,433.97 200.31,409.72 202.44,415.98 204.58,393.29 206.71,374.51 208.85,420.67 210.98,417.54 213.12,362.78 215.25,342.44 217.38,329.14 219.52,329.14 221.65,348.70 223.79,414.41 225.92,360.43 228.06,386.25 230.19,366.69 232.33,323.66 234.46,339.31 236.60,399.55 238.73,406.59 240.87,389.38 243.00,389.38 245.14,380.77 247.27,351.83 249.41,391.72 251.54,429.27 253.68,455.09 255.81,396.42 257.95,448.83 260.08,438.66 262.22,356.52 264.35,365.13 266.49,412.85 268.62,417.54 270.76,440.23 272.89,455.87 275.03,467.61 277.16,455.09 279.30,457.44 281.43,468.39 283.57,473.87 285.70,463.70 287.84,477.78 289.97,462.13 292.11,478.56 294.24,474.65 296.38,481.69 298.51,477.78 300.64,481.69 302.78,481.69 304.91,476.99 307.05,483.25 309.18,484.04 311.32,474.65 313.45,479.34 315.59,477.78 317.72,476.99 319.86,473.87 321.99,468.39 324.13,474.65 326.26,481.69 328.40,475.43 330.53,459.00 332.67,476.21 334.80,463.70 336.94,469.95 339.07,465.26 341.21,474.65 343.34,475.43 345.48,476.21 347.61,471.52 349.75,468.39 351.88,466.04 354.02,466.82 356.15,448.83 358.29,448.05 360.42,464.48 362.56,473.08 364.69,453.53 366.83,458.22 368.96,455.09 371.10,458.22 373.23,462.91 375.37,461.35 377.50,442.57 379.63,448.05 381.77,443.36 383.90,441.01 386.04,438.66 388.17,440.23 390.31,443.36 392.44,433.19 394.58,401.89 396.71,388.59 398.85,383.12 400.98,398.76 403.12,405.81 405.25,402.68 407.39,426.93 409.52,310.36 411.66,295.50 413.79,324.45 415.93,324.45 418.06,392.51 420.20,373.73 422.33,356.52 424.47,261.86 426.60,256.39 428.74,258.73 430.87,338.53 433.01,354.17 435.14,300.19 437.28,299.41 439.41,199.28 441.55,282.20 443.68,254.82 445.82,298.63 447.95,383.12 450.09,277.51 452.22,290.03 454.36,198.50 456.49,123.40 458.62,116.35 460.76,257.17 462.89,283.77 465.03,243.87 467.16,279.86 469.30,203.97 471.43,124.18 473.57,149.99 475.70,226.66 477.84,331.49 479.97,338.53 482.11,311.93 484.24,324.45 486.38,181.29 488.51,184.41 490.65,282.20 492.78,359.65 494.92,323.66 497.05,340.09 499.19,220.40 501.32,283.77 503.46,285.33 505.59,319.75 507.73,411.28 509.86,343.22 512.00,300.98 514.13,290.03 516.27,308.80 518.40,292.37 520.54,369.82 522.67,407.37 524.81,352.61 526.94,375.30 529.08,321.32 531.21,379.21 533.35,344.00 535.48,394.85 537.62,425.36 539.75,352.61 541.88,369.04 544.02,269.69 546.15,339.31 548.29,308.02 550.42,371.38 552.56,423.02 554.69,336.18 556.83,358.09 558.96,351.04 561.10,313.49 563.23,315.06 565.37,358.09 567.50,408.93 569.64,416.76 571.77,439.44 573.91,333.05 576.04,329.14 578.18,274.38 580.31,372.17 582.45,424.58 584.58,319.75 586.72,333.83 588.85,301.76 590.99,332.27 593.12,323.66 595.26,401.11 597.39,438.66 599.53,347.13 601.66,375.30 603.80,291.59 605.93,326.79 608.07,290.81 610.20,371.38 612.34,424.58 614.47,355.74 616.61,347.13 618.74,263.43 620.88,340.87 623.01,301.76 625.14,381.55 627.28,424.58 629.41,376.86 631.55,373.73 633.68,340.09 635.82,340.09 637.95,327.58 640.09,388.59 642.22,405.81 644.36,362.00 646.49,351.83 648.63,312.71 650.76,317.41 652.90,322.10 655.03,394.85 657.17,417.54 659.30,322.10 661.44,390.16 663.57,275.16 665.71,296.28 667.84,255.60 669.98,337.75 672.11,362.78 674.25,256.39 676.38,237.61 678.52,178.16 680.65,193.02 682.79,210.23 684.92,286.11 687.06,344.79 689.19,252.47 691.33,99.93 693.46,67.85 695.60,77.24 697.73,63.94 699.87,179.72 702.00,239.96" fill="none" stroke="#0b8ad2" stroke-width="2" stroke-linejoin="round"/>
<g fill="#109bdb" stroke="#0b7ccc" stroke-width="0.9"><circle cx="53.00" cy="484.82" r="2.4"/><circle cx="55.13" cy="484.82" r="2.4"/><circle cx="57.27" cy="485.60" r="2.4"/><circle cx="59.40" cy="485.60" r="2.4"/><circle cx="61.54" cy="485.60" r="2.4"/><circle cx="63.67" cy="485.60" r="2.4"/><circle cx="65.81" cy="484.82" r="2.4"/><circle cx="67.94" cy="485.60" r="2.4"/><circle cx="70.08" cy="485.60" r="2.4"/><circle cx="72.21" cy="485.60" r="2.4"/><circle cx="74.35" cy="485.60" r="2.4"/><circle cx="76.48" cy="485.60" r="2.4"/><circle cx="78.62" cy="485.60" r="2.4"/><circle cx="80.75" cy="485.60" r="2.4"/><circle cx="82.89" cy="485.60" r="2.4"/><circle cx="85.02" cy="485.60" r="2.4"/><circle cx="87.16" cy="485.60" r="2.4"/><circle cx="89.29" cy="485.60" r="2.4"/><circle cx="91.43" cy="485.60" r="2.4"/><circle cx="93.56" cy="485.60" r="2.4"/><circle cx="95.70" cy="484.82" r="2.4"/><circle cx="97.83" cy="484.04" r="2.4"/><circle cx="99.97" cy="479.34" r="2.4"/><circle cx="102.10" cy="481.69" r="2.4"/><circle cx="104.24" cy="485.60" r="2.4"/><circle cx="106.37" cy="483.25" r="2.4"/><circle cx="108.51" cy="483.25" r="2.4"/><circle cx="110.64" cy="484.82" r="2.4"/><circle cx="112.78" cy="483.25" r="2.4"/><circle cx="114.91" cy="484.82" r="2.4"/><circle cx="117.05" cy="484.82" r="2.4"/><circle cx="119.18" cy="483.25" r="2.4"/><circle cx="121.32" cy="485.60" r="2.4"/><circle cx="123.45" cy="484.82" r="2.4"/><circle cx="125.59" cy="484.82" r="2.4"/><circle cx="127.72" cy="484.04" r="2.4"/><circle cx="129.86" cy="485.60" r="2.4"/><circle cx="131.99" cy="484.82" r="2.4"/><circle cx="134.12" cy="484.04" r="2.4"/><circle cx="136.26" cy="484.04" r="2.4"/><circle cx="138.39" cy="483.25" r="2.4"/><circle cx="140.53" cy="477.78" r="2.4"/><circle cx="142.66" cy="479.34" r="2.4"/><circle cx="144.80" cy="480.12" r="2.4"/><circle cx="146.93" cy="484.04" r="2.4"/><circle cx="149.07" cy="484.04" r="2.4"/><circle cx="151.20" cy="481.69" r="2.4"/><circle cx="153.34" cy="479.34" r="2.4"/><circle cx="155.47" cy="483.25" r="2.4"/><circle cx="157.61" cy="481.69" r="2.4"/><circle cx="159.74" cy="476.21" r="2.4"/><circle cx="161.88" cy="478.56" r="2.4"/><circle cx="164.01" cy="481.69" r="2.4"/><circle cx="166.15" cy="474.65" r="2.4"/><circle cx="168.28" cy="478.56" r="2.4"/><circle cx="170.42" cy="476.21" r="2.4"/><circle cx="172.55" cy="478.56" r="2.4"/><circle cx="174.69" cy="476.21" r="2.4"/><circle cx="176.82" cy="478.56" r="2.4"/><circle cx="178.96" cy="472.30" r="2.4"/><circle cx="181.09" cy="472.30" r="2.4"/><circle cx="183.23" cy="453.53" r="2.4"/><circle cx="185.36" cy="448.83" r="2.4"/><circle cx="187.50" cy="454.31" r="2.4"/><circle cx="189.63" cy="436.32" r="2.4"/><circle cx="191.77" cy="432.40" r="2.4"/><circle cx="193.90" cy="475.43" r="2.4"/><circle cx="196.04" cy="424.58" r="2.4"/><circle cx="198.17" cy="433.97" r="2.4"/><circle cx="200.31" cy="409.72" r="2.4"/><circle cx="202.44" cy="415.98" r="2.4"/><circle cx="204.58" cy="393.29" r="2.4"/><circle cx="206.71" cy="374.51" r="2.4"/><circle cx="208.85" cy="420.67" r="2.4"/><circle cx="210.98" cy="417.54" r="2.4"/><circle cx="213.12" cy="362.78" r="2.4"/><circle cx="215.25" cy="342.44" r="2.4"/><circle cx="217.38" cy="329.14" r="2.4"/><circle cx="219.52" cy="329.14" r="2.4"/><circle cx="221.65" cy="348.70" r="2.4"/><circle cx="223.79" cy="414.41" r="2.4"/><circle cx="225.92" cy="360.43" r="2.4"/><circle cx="228.06" cy="386.25" r="2.4"/><circle cx="230.19" cy="366.69" r="2.4"/><circle cx="232.33" cy="323.66" r="2.4"/><circle cx="234.46" cy="339.31" r="2.4"/><circle cx="236.60" cy="399.55" r="2.4"/><circle cx="238.73" cy="406.59" r="2.4"/><circle cx="240.87" cy="389.38" r="2.4"/><circle cx="243.00" cy="389.38" r="2.4"/><circle cx="245.14" cy="380.77" r="2.4"/><circle cx="247.27" cy="351.83" r="2.4"/><circle cx="249.41" cy="391.72" r="2.4"/><circle cx="251.54" cy="429.27" r="2.4"/><circle cx="253.68" cy="455.09" r="2.4"/><circle cx="255.81" cy="396.42" r="2.4"/><circle cx="257.95" cy="448.83" r="2.4"/><circle cx="260.08" cy="438.66" r="2.4"/><circle cx="262.22" cy="356.52" r="2.4"/><circle cx="264.35" cy="365.13" r="2.4"/><circle cx="266.49" cy="412.85" r="2.4"/><circle cx="268.62" cy="417.54" r="2.4"/><circle cx="270.76" cy="440.23" r="2.4"/><circle cx="272.89" cy="455.87" r="2.4"/><circle cx="275.03" cy="467.61" r="2.4"/><circle cx="277.16" cy="455.09" r="2.4"/><circle cx="279.30" cy="457.44" r="2.4"/><circle cx="281.43" cy="468.39" r="2.4"/><circle cx="283.57" cy="473.87" r="2.4"/><circle cx="285.70" cy="463.70" r="2.4"/><circle cx="287.84" cy="477.78" r="2.4"/><circle cx="289.97" cy="462.13" r="2.4"/><circle cx="292.11" cy="478.56" r="2.4"/><circle cx="294.24" cy="474.65" r="2.4"/><circle cx="296.38" cy="481.69" r="2.4"/><circle cx="298.51" cy="477.78" r="2.4"/><circle cx="300.64" cy="481.69" r="2.4"/><circle cx="302.78" cy="481.69" r="2.4"/><circle cx="304.91" cy="476.99" r="2.4"/><circle cx="307.05" cy="483.25" r="2.4"/><circle cx="309.18" cy="484.04" r="2.4"/><circle cx="311.32" cy="474.65" r="2.4"/><circle cx="313.45" cy="479.34" r="2.4"/><circle cx="315.59" cy="477.78" r="2.4"/><circle cx="317.72" cy="476.99" r="2.4"/><circle cx="319.86" cy="473.87" r="2.4"/><circle cx="321.99" cy="468.39" r="2.4"/><circle cx="324.13" cy="474.65" r="2.4"/><circle cx="326.26" cy="481.69" r="2.4"/><circle cx="328.40" cy="475.43" r="2.4"/><circle cx="330.53" cy="459.00" r="2.4"/><circle cx="332.67" cy="476.21" r="2.4"/><circle cx="334.80" cy="463.70" r="2.4"/><circle cx="336.94" cy="469.95" r="2.4"/><circle cx="339.07" cy="465.26" r="2.4"/><circle cx="341.21" cy="474.65" r="2.4"/><circle cx="343.34" cy="475.43" r="2.4"/><circle cx="345.48" cy="476.21" r="2.4"/><circle cx="347.61" cy="471.52" r="2.4"/><circle cx="349.75" cy="468.39" r="2.4"/><circle cx="351.88" cy="466.04" r="2.4"/><circle cx="354.02" cy="466.82" r="2.4"/><circle cx="356.15" cy="448.83" r="2.4"/><circle cx="358.29" cy="448.05" r="2.4"/><circle cx="360.42" cy="464.48" r="2.4"/><circle cx="362.56" cy="473.08" r="2.4"/><circle cx="364.69" cy="453.53" r="2.4"/><circle cx="366.83" cy="458.22" r="2.4"/><circle cx="368.96" cy="455.09" r="2.4"/><circle cx="371.10" cy="458.22" r="2.4"/><circle cx="373.23" cy="462.91" r="2.4"/><circle cx="375.37" cy="461.35" r="2.4"/><circle cx="377.50" cy="442.57" r="2.4"/><circle cx="379.63" cy="448.05" r="2.4"/><circle cx="381.77" cy="443.36" r="2.4"/><circle cx="383.90" cy="441.01" r="2.4"/><circle cx="386.04" cy="438.66" r="2.4"/><circle cx="388.17" cy="440.23" r="2.4"/><circle cx="390.31" cy="443.36" r="2.4"/><circle cx="392.44" cy="433.19" r="2.4"/><circle cx="394.58" cy="401.89" r="2.4"/><circle cx="396.71" cy="388.59" r="2.4"/><circle cx="398.85" cy="383.12" r="2.4"/><circle cx="400.98" cy="398.76" r="2.4"/><circle cx="403.12" cy="405.81" r="2.4"/><circle cx="405.25" cy="402.68" r="2.4"/><circle cx="407.39" cy="426.93" r="2.4"/><circle cx="409.52" cy="310.36" r="2.4"/><circle cx="411.66" cy="295.50" r="2.4"/><circle cx="413.79" cy="324.45" r="2.4"/><circle cx="415.93" cy="324.45" r="2.4"/><circle cx="418.06" cy="392.51" r="2.4"/><circle cx="420.20" cy="373.73" r="2.4"/><circle cx="422.33" cy="356.52" r="2.4"/><circle cx="424.47" cy="261.86" r="2.4"/><circle cx="426.60" cy="256.39" r="2.4"/><circle cx="428.74" cy="258.73" r="2.4"/><circle cx="430.87" cy="338.53" r="2.4"/><circle cx="433.01" cy="354.17" r="2.4"/><circle cx="435.14" cy="300.19" r="2.4"/><circle cx="437.28" cy="299.41" r="2.4"/><circle cx="439.41" cy="199.28" r="2.4"/><circle cx="441.55" cy="282.20" r="2.4"/><circle cx="443.68" cy="254.82" r="2.4"/><circle cx="445.82" cy="298.63" r="2.4"/><circle cx="447.95" cy="383.12" r="2.4"/><circle cx="450.09" cy="277.51" r="2.4"/><circle cx="452.22" cy="290.03" r="2.4"/><circle cx="454.36" cy="198.50" r="2.4"/><circle cx="456.49" cy="123.40" r="2.4"/><circle cx="458.62" cy="116.35" r="2.4"/><circle cx="460.76" cy="257.17" r="2.4"/><circle cx="462.89" cy="283.77" r="2.4"/><circle cx="465.03" cy="243.87" r="2.4"/><circle cx="467.16" cy="279.86" r="2.4"/><circle cx="469.30" cy="203.97" r="2.4"/><circle cx="471.43" cy="124.18" r="2.4"/><circle cx="473.57" cy="149.99" r="2.4"/><circle cx="475.70" cy="226.66" r="2.4"/><circle cx="477.84" cy="331.49" r="2.4"/><circle cx="479.97" cy="338.53" r="2.4"/><circle cx="482.11" cy="311.93" r="2.4"/><circle cx="484.24" cy="324.45" r="2.4"/><circle cx="486.38" cy="181.29" r="2.4"/><circle cx="488.51" cy="184.41" r="2.4"/><circle cx="490.65" cy="282.20" r="2.4"/><circle cx="492.78" cy="359.65" r="2.4"/><circle cx="494.92" cy="323.66" r="2.4"/><circle cx="497.05" cy="340.09" r="2.4"/><circle cx="499.19" cy="220.40" r="2.4"/><circle cx="501.32" cy="283.77" r="2.4"/><circle cx="503.46" cy="285.33" r="2.4"/><circle cx="505.59" cy="319.75" r="2.4"/><circle cx="507.73" cy="411.28" r="2.4"/><circle cx="509.86" cy="343.22" r="2.4"/><circle cx="512.00" cy="300.98" r="2.4"/><circle cx="514.13" cy="290.03" r="2.4"/><circle cx="516.27" cy="308.80" r="2.4"/><circle cx="518.40" cy="292.37" r="2.4"/><circle cx="520.54" cy="369.82" r="2.4"/><circle cx="522.67" cy="407.37" r="2.4"/><circle cx="524.81" cy="352.61" r="2.4"/><circle cx="526.94" cy="375.30" r="2.4"/><circle cx="529.08" cy="321.32" r="2.4"/><circle cx="531.21" cy="379.21" r="2.4"/><circle cx="533.35" cy="344.00" r="2.4"/><circle cx="535.48" cy="394.85" r="2.4"/><circle cx="537.62" cy="425.36" r="2.4"/><circle cx="539.75" cy="352.61" r="2.4"/><circle cx="541.88" cy="369.04" r="2.4"/><circle cx="544.02" cy="269.69" r="2.4"/><circle cx="546.15" cy="339.31" r="2.4"/><circle cx="548.29" cy="308.02" r="2.4"/><circle cx="550.42" cy="371.38" r="2.4"/><circle cx="552.56" cy="423.02" r="2.4"/><circle cx="554.69" cy="336.18" r="2.4"/><circle cx="556.83" cy="358.09" r="2.4"/><circle cx="558.96" cy="351.04" r="2.4"/><circle cx="561.10" cy="313.49" r="2.4"/><circle cx="563.23" cy="315.06" r="2.4"/><circle cx="565.37" cy="358.09" r="2.4"/><circle cx="567.50" cy="408.93" r="2.4"/><circle cx="569.64" cy="416.76" r="2.4"/><circle cx="571.77" cy="439.44" r="2.4"/><circle cx="573.91" cy="333.05" r="2.4"/><circle cx="576.04" cy="329.14" r="2.4"/><circle cx="578.18" cy="274.38" r="2.4"/><circle cx="580.31" cy="372.17" r="2.4"/><circle cx="582.45" cy="424.58" r="2.4"/><circle cx="584.58" cy="319.75" r="2.4"/><circle cx="586.72" cy="333.83" r="2.4"/><circle cx="588.85" cy="301.76" r="2.4"/><circle cx="590.99" cy="332.27" r="2.4"/><circle cx="593.12" cy="323.66" r="2.4"/><circle cx="595.26" cy="401.11" r="2.4"/><circle cx="597.39" cy="438.66" r="2.4"/><circle cx="599.53" cy="347.13" r="2.4"/><circle cx="601.66" cy="375.30" r="2.4"/><circle cx="603.80" cy="291.59" r="2.4"/><circle cx="605.93" cy="326.79" r="2.4"/><circle cx="608.07" cy="290.81" r="2.4"/><circle cx="610.20" cy="371.38" r="2.4"/><circle cx="612.34" cy="424.58" r="2.4"/><circle cx="614.47" cy="355.74" r="2.4"/><circle cx="616.61" cy="347.13" r="2.4"/><circle cx="618.74" cy="263.43" r="2.4"/><circle cx="620.88" cy="340.87" r="2.4"/><circle cx="623.01" cy="301.76" r="2.4"/><circle cx="625.14" cy="381.55" r="2.4"/><circle cx="627.28" cy="424.58" r="2.4"/><circle cx="629.41" cy="376.86" r="2.4"/><circle cx="631.55" cy="373.73" r="2.4"/><circle cx="633.68" cy="340.09" r="2.4"/><circle cx="635.82" cy="340.09" r="2.4"/><circle cx="637.95" cy="327.58" r="2.4"/><circle cx="640.09" cy="388.59" r="2.4"/><circle cx="642.22" cy="405.81" r="2.4"/><circle cx="644.36" cy="362.00" r="2.4"/><circle cx="646.49" cy="351.83" r="2.4"/><circle cx="648.63" cy="312.71" r="2.4"/><circle cx="650.76" cy="317.41" r="2.4"/><circle cx="652.90" cy="322.10" r="2.4"/><circle cx="655.03" cy="394.85" r="2.4"/><circle cx="657.17" cy="417.54" r="2.4"/><circle cx="659.30" cy="322.10" r="2.4"/><circle cx="661.44" cy="390.16" r="2.4"/><circle cx="663.57" cy="275.16" r="2.4"/><circle cx="665.71" cy="296.28" r="2.4"/><circle cx="667.84" cy="255.60" r="2.4"/><circle cx="669.98" cy="337.75" r="2.4"/><circle cx="672.11" cy="362.78" r="2.4"/><circle cx="674.25" cy="256.39" r="2.4"/><circle cx="676.38" cy="237.61" r="2.4"/><circle cx="678.52" cy="178.16" r="2.4"/><circle cx="680.65" cy="193.02" r="2.4"/><circle cx="682.79" cy="210.23" r="2.4"/><circle cx="684.92" cy="286.11" r="2.4"/><circle cx="687.06" cy="344.79" r="2.4"/><circle cx="689.19" cy="252.47" r="2.4"/><circle cx="691.33" cy="99.93" r="2.4"/><circle cx="693.46" cy="67.85" r="2.4"/><circle cx="695.60" cy="77.24" r="2.4"/><circle cx="697.73" cy="63.94" r="2.4"/><circle cx="699.87" cy="179.72" r="2.4"/><circle cx="702.00" cy="239.96" r="2.4"/></g>
<polyline points="53.00,485.60 55.13,485.60 57.27,485.60 59.40,485.60 61.54,485.60 63.67,485.60 65.81,485.60 67.94,485.60 70.08,485.60 72.21,485.60 74.35,485.60 76.48,485.60 78.62,485.60 80.75,485.60 82.89,485.60 85.02,485.60 87.16,485.60 89.29,485.60 91.43,485.60 93.56,485.60 95.70,485.60 97.83,485.60 99.97,485.60 102.10,485.60 104.24,485.60 106.37,485.60 108.51,485.60 110.64,485.60 112.78,485.60 114.91,485.60 117.05,485.60 119.18,485.60 121.32,485.60 123.45,485.60 125.59,485.60 127.72,485.60 129.86,485.60 131.99,485.60 134.12,485.60 136.26,485.60 138.39,485.60 140.53,485.60 142.66,485.60 144.80,485.60 146.93,485.60 149.07,485.60 151.20,485.60 153.34,485.60 155.47,485.60 157.61,485.60 159.74,485.60 161.88,485.60 164.01,485.60 166.15,485.60 168.28,485.60 170.42,485.60 172.55,485.60 174.69,485.60 176.82,485.60 178.96,485.60 181.09,485.60 183.23,485.60 185.36,485.60 187.50,467.61 189.63,455.87 191.77,456.65 193.90,482.47 196.04,462.91 198.17,466.82 200.31,435.53 202.44,461.35 204.58,454.31 206.71,449.61 208.85,477.78 210.98,467.61 213.12,448.05 215.25,441.79 217.38,455.87 219.52,430.84 221.65,404.24 223.79,473.08 225.92,444.14 228.06,454.31 230.19,450.40 232.33,431.62 234.46,441.01 236.60,452.74 238.73,466.04 240.87,452.74 243.00,447.27 245.14,445.70 247.27,415.19 249.41,445.70 251.54,465.26 253.68,470.74 255.81,430.06 257.95,471.52 260.08,451.96 262.22,394.85 264.35,421.45 266.49,462.91 268.62,433.97 270.76,462.91 272.89,469.17 275.03,478.56 277.16,467.61 279.30,472.30 281.43,477.78 283.57,478.56 285.70,469.17 287.84,477.78 289.97,468.39 292.11,479.34 294.24,481.69 296.38,481.69 298.51,482.47 300.64,481.69 302.78,483.25 304.91,484.04 307.05,483.25 309.18,484.04 311.32,480.91 313.45,480.12 315.59,477.78 317.72,476.99 319.86,479.34 321.99,476.21 324.13,479.34 326.26,483.25 328.40,478.56 330.53,466.82 332.67,477.78 334.80,468.39 336.94,473.87 339.07,469.95 341.21,476.99 343.34,477.78 345.48,478.56 347.61,474.65 349.75,472.30 351.88,469.95 354.02,470.74 356.15,455.87 358.29,461.35 360.42,479.34 362.56,480.91 364.69,471.52 366.83,470.74 368.96,466.04 371.10,469.95 373.23,473.87 375.37,474.65 377.50,459.78 379.63,460.57 381.77,462.13 383.90,465.26 386.04,466.82 388.17,458.22 390.31,462.91 392.44,447.27 394.58,436.32 396.71,419.10 398.85,418.32 400.98,439.44 403.12,438.66 405.25,437.88 407.39,452.74 409.52,390.16 411.66,373.73 413.79,402.68 415.93,395.64 418.06,441.79 420.20,423.80 422.33,415.98 424.47,366.69 426.60,366.69 428.74,381.55 430.87,429.27 433.01,427.71 435.14,394.07 437.28,407.37 439.41,374.51 441.55,402.68 443.68,383.12 445.82,411.28 447.95,441.79 450.09,391.72 452.22,415.98 454.36,357.30 456.49,348.70 458.62,354.17 460.76,396.42 462.89,391.72 465.03,403.46 467.16,406.59 469.30,378.42 471.43,365.91 473.57,363.56 475.70,394.85 477.84,423.02 479.97,429.27 482.11,426.93 484.24,423.80 486.38,369.82 488.51,378.42 490.65,392.51 492.78,430.06 494.92,419.89 497.05,431.62 499.19,390.16 501.32,407.37 503.46,409.72 505.59,412.06 507.73,442.57 509.86,432.40 512.00,413.63 514.13,405.81 516.27,417.54 518.40,415.19 520.54,438.66 522.67,444.92 524.81,425.36 526.94,436.32 529.08,413.63 531.21,441.79 533.35,423.80 535.48,442.57 537.62,454.31 539.75,427.71 541.88,435.53 544.02,394.07 546.15,410.50 548.29,394.85 550.42,437.10 552.56,450.40 554.69,408.93 556.83,421.45 558.96,420.67 561.10,405.81 563.23,414.41 565.37,430.84 567.50,452.74 569.64,451.96 571.77,460.57 573.91,394.85 576.04,406.59 578.18,397.98 580.31,437.88 582.45,454.31 584.58,417.54 586.72,407.37 588.85,385.47 590.99,413.63 593.12,417.54 595.26,448.83 597.39,459.78 599.53,441.01 601.66,447.27 603.80,413.63 605.93,420.67 608.07,397.98 610.20,440.23 612.34,454.31 614.47,436.32 616.61,417.54 618.74,387.81 620.88,421.45 623.01,404.24 625.14,443.36 627.28,451.96 629.41,433.97 631.55,441.01 633.68,428.49 635.82,421.45 637.95,408.15 640.09,434.75 642.22,443.36 644.36,426.15 646.49,415.98 648.63,411.28 650.76,408.15 652.90,420.67 655.03,442.57 657.17,457.44 659.30,411.28 661.44,432.40 663.57,394.85 665.71,417.54 667.84,388.59 669.98,418.32 672.11,415.98 674.25,393.29 676.38,378.42 678.52,360.43 680.65,343.22 682.79,369.04 684.92,396.42 687.06,426.93 689.19,396.42 691.33,321.32 693.46,236.05 695.60,254.04 697.73,225.88 699.87,322.88" fill="none" stroke="#ff2200" stroke-width="2" stroke-linejoin="round"/>
<g fill="#ff2200" stroke="#f01c00" stroke-width="0.9"><circle cx="53.00" cy="485.60" r="2.4"/><circle cx="55.13" cy="485.60" r="2.4"/><circle cx="57.27" cy="485.60" r="2.4"/><circle cx="59.40" cy="485.60" r="2.4"/><circle cx="61.54" cy="485.60" r="2.4"/><circle cx="63.67" cy="485.60" r="2.4"/><circle cx="65.81" cy="485.60" r="2.4"/><circle cx="67.94" cy="485.60" r="2.4"/><circle cx="70.08" cy="485.60" r="2.4"/><circle cx="72.21" cy="485.60" r="2.4"/><circle cx="74.35" cy="485.60" r="2.4"/><circle cx="76.48" cy="485.60" r="2.4"/><circle cx="78.62" cy="485.60" r="2.4"/><circle cx="80.75" cy="485.60" r="2.4"/><circle cx="82.89" cy="485.60" r="2.4"/><circle cx="85.02" cy="485.60" r="2.4"/><circle cx="87.16" cy="485.60" r="2.4"/><circle cx="89.29" cy="485.60" r="2.4"/><circle cx="91.43" cy="485.60" r="2.4"/><circle cx="93.56" cy="485.60" r="2.4"/><circle cx="95.70" cy="485.60" r="2.4"/><circle cx="97.83" cy="485.60" r="2.4"/><circle cx="99.97" cy="485.60" r="2.4"/><circle cx="102.10" cy="485.60" r="2.4"/><circle cx="104.24" cy="485.60" r="2.4"/><circle cx="106.37" cy="485.60" r="2.4"/><circle cx="108.51" cy="485.60" r="2.4"/><circle cx="110.64" cy="485.60" r="2.4"/><circle cx="112.78" cy="485.60" r="2.4"/><circle cx="114.91" cy="485.60" r="2.4"/><circle cx="117.05" cy="485.60" r="2.4"/><circle cx="119.18" cy="485.60" r="2.4"/><circle cx="121.32" cy="485.60" r="2.4"/><circle cx="123.45" cy="485.60" r="2.4"/><circle cx="125.59" cy="485.60" r="2.4"/><circle cx="127.72" cy="485.60" r="2.4"/><circle cx="129.86" cy="485.60" r="2.4"/><circle cx="131.99" cy="485.60" r="2.4"/><circle cx="134.12" cy="485.60" r="2.4"/><circle cx="136.26" cy="485.60" r="2.4"/><circle cx="138.39" cy="485.60" r="2.4"/><circle cx="140.53" cy="485.60" r="2.4"/><circle cx="142.66" cy="485.60" r="2.4"/><circle cx="144.80" cy="485.60" r="2.4"/><circle cx="146.93" cy="485.60" r="2.4"/><circle cx="149.07" cy="485.60" r="2.4"/><circle cx="151.20" cy="485.60" r="2.4"/><circle cx="153.34" cy="485.60" r="2.4"/><circle cx="155.47" cy="485.60" r="2.4"/><circle cx="157.61" cy="485.60" r="2.4"/><circle cx="159.74" cy="485.60" r="2.4"/><circle cx="161.88" cy="485.60" r="2.4"/><circle cx="164.01" cy="485.60" r="2.4"/><circle cx="166.15" cy="485.60" r="2.4"/><circle cx="168.28" cy="485.60" r="2.4"/><circle cx="170.42" cy="485.60" r="2.4"/><circle cx="172.55" cy="485.60" r="2.4"/><circle cx="174.69" cy="485.60" r="2.4"/><circle cx="176.82" cy="485.60" r="2.4"/><circle cx="178.96" cy="485.60" r="2.4"/><circle cx="181.09" cy="485.60" r="2.4"/><circle cx="183.23" cy="485.60" r="2.4"/><circle cx="185.36" cy="485.60" r="2.4"/><circle cx="187.50" cy="467.61" r="2.4"/><circle cx="189.63" cy="455.87" r="2.4"/><circle cx="191.77" cy="456.65" r="2.4"/><circle cx="193.90" cy="482.47" r="2.4"/><circle cx="196.04" cy="462.91" r="2.4"/><circle cx="198.17" cy="466.82" r="2.4"/><circle cx="200.31" cy="435.53" r="2.4"/><circle cx="202.44" cy="461.35" r="2.4"/><circle cx="204.58" cy="454.31" r="2.4"/><circle cx="206.71" cy="449.61" r="2.4"/><circle cx="208.85" cy="477.78" r="2.4"/><circle cx="210.98" cy="467.61" r="2.4"/><circle cx="213.12" cy="448.05" r="2.4"/><circle cx="215.25" cy="441.79" r="2.4"/><circle cx="217.38" cy="455.87" r="2.4"/><circle cx="219.52" cy="430.84" r="2.4"/><circle cx="221.65" cy="404.24" r="2.4"/><circle cx="223.79" cy="473.08" r="2.4"/><circle cx="225.92" cy="444.14" r="2.4"/><circle cx="228.06" cy="454.31" r="2.4"/><circle cx="230.19" cy="450.40" r="2.4"/><circle cx="232.33" cy="431.62" r="2.4"/><circle cx="234.46" cy="441.01" r="2.4"/><circle cx="236.60" cy="452.74" r="2.4"/><circle cx="238.73" cy="466.04" r="2.4"/><circle cx="240.87" cy="452.74" r="2.4"/><circle cx="243.00" cy="447.27" r="2.4"/><circle cx="245.14" cy="445.70" r="2.4"/><circle cx="247.27" cy="415.19" r="2.4"/><circle cx="249.41" cy="445.70" r="2.4"/><circle cx="251.54" cy="465.26" r="2.4"/><circle cx="253.68" cy="470.74" r="2.4"/><circle cx="255.81" cy="430.06" r="2.4"/><circle cx="257.95" cy="471.52" r="2.4"/><circle cx="260.08" cy="451.96" r="2.4"/><circle cx="262.22" cy="394.85" r="2.4"/><circle cx="264.35" cy="421.45" r="2.4"/><circle cx="266.49" cy="462.91" r="2.4"/><circle cx="268.62" cy="433.97" r="2.4"/><circle cx="270.76" cy="462.91" r="2.4"/><circle cx="272.89" cy="469.17" r="2.4"/><circle cx="275.03" cy="478.56" r="2.4"/><circle cx="277.16" cy="467.61" r="2.4"/><circle cx="279.30" cy="472.30" r="2.4"/><circle cx="281.43" cy="477.78" r="2.4"/><circle cx="283.57" cy="478.56" r="2.4"/><circle cx="285.70" cy="469.17" r="2.4"/><circle cx="287.84" cy="477.78" r="2.4"/><circle cx="289.97" cy="468.39" r="2.4"/><circle cx="292.11" cy="479.34" r="2.4"/><circle cx="294.24" cy="481.69" r="2.4"/><circle cx="296.38" cy="481.69" r="2.4"/><circle cx="298.51" cy="482.47" r="2.4"/><circle cx="300.64" cy="481.69" r="2.4"/><circle cx="302.78" cy="483.25" r="2.4"/><circle cx="304.91" cy="484.04" r="2.4"/><circle cx="307.05" cy="483.25" r="2.4"/><circle cx="309.18" cy="484.04" r="2.4"/><circle cx="311.32" cy="480.91" r="2.4"/><circle cx="313.45" cy="480.12" r="2.4"/><circle cx="315.59" cy="477.78" r="2.4"/><circle cx="317.72" cy="476.99" r="2.4"/><circle cx="319.86" cy="479.34" r="2.4"/><circle cx="321.99" cy="476.21" r="2.4"/><circle cx="324.13" cy="479.34" r="2.4"/><circle cx="326.26" cy="483.25" r="2.4"/><circle cx="328.40" cy="478.56" r="2.4"/><circle cx="330.53" cy="466.82" r="2.4"/><circle cx="332.67" cy="477.78" r="2.4"/><circle cx="334.80" cy="468.39" r="2.4"/><circle cx="336.94" cy="473.87" r="2.4"/><circle cx="339.07" cy="469.95" r="2.4"/><circle cx="341.21" cy="476.99" r="2.4"/><circle cx="343.34" cy="477.78" r="2.4"/><circle cx="345.48" cy="478.56" r="2.4"/><circle cx="347.61" cy="474.65" r="2.4"/><circle cx="349.75" cy="472.30" r="2.4"/><circle cx="351.88" cy="469.95" r="2.4"/><circle cx="354.02" cy="470.74" r="2.4"/><circle cx="356.15" cy="455.87" r="2.4"/><circle cx="358.29" cy="461.35" r="2.4"/><circle cx="360.42" cy="479.34" r="2.4"/><circle cx="362.56" cy="480.91" r="2.4"/><circle cx="364.69" cy="471.52" r="2.4"/><circle cx="366.83" cy="470.74" r="2.4"/><circle cx="368.96" cy="466.04" r="2.4"/><circle cx="371.10" cy="469.95" r="2.4"/><circle cx="373.23" cy="473.87" r="2.4"/><circle cx="375.37" cy="474.65" r="2.4"/><circle cx="377.50" cy="459.78" r="2.4"/><circle cx="379.63" cy="460.57" r="2.4"/><circle cx="381.77" cy="462.13" r="2.4"/><circle cx="383.90" cy="465.26" r="2.4"/><circle cx="386.04" cy="466.82" r="2.4"/><circle cx="388.17" cy="458.22" r="2.4"/><circle cx="390.31" cy="462.91" r="2.4"/><circle cx="392.44" cy="447.27" r="2.4"/><circle cx="394.58" cy="436.32" r="2.4"/><circle cx="396.71" cy="419.10" r="2.4"/><circle cx="398.85" cy="418.32" r="2.4"/><circle cx="400.98" cy="439.44" r="2.4"/><circle cx="403.12" cy="438.66" r="2.4"/><circle cx="405.25" cy="437.88" r="2.4"/><circle cx="407.39" cy="452.74" r="2.4"/><circle cx="409.52" cy="390.16" r="2.4"/><circle cx="411.66" cy="373.73" r="2.4"/><circle cx="413.79" cy="402.68" r="2.4"/><circle cx="415.93" cy="395.64" r="2.4"/><circle cx="418.06" cy="441.79" r="2.4"/><circle cx="420.20" cy="423.80" r="2.4"/><circle cx="422.33" cy="415.98" r="2.4"/><circle cx="424.47" cy="366.69" r="2.4"/><circle cx="426.60" cy="366.69" r="2.4"/><circle cx="428.74" cy="381.55" r="2.4"/><circle cx="430.87" cy="429.27" r="2.4"/><circle cx="433.01" cy="427.71" r="2.4"/><circle cx="435.14" cy="394.07" r="2.4"/><circle cx="437.28" cy="407.37" r="2.4"/><circle cx="439.41" cy="374.51" r="2.4"/><circle cx="441.55" cy="402.68" r="2.4"/><circle cx="443.68" cy="383.12" r="2.4"/><circle cx="445.82" cy="411.28" r="2.4"/><circle cx="447.95" cy="441.79" r="2.4"/><circle cx="450.09" cy="391.72" r="2.4"/><circle cx="452.22" cy="415.98" r="2.4"/><circle cx="454.36" cy="357.30" r="2.4"/><circle cx="456.49" cy="348.70" r="2.4"/><circle cx="458.62" cy="354.17" r="2.4"/><circle cx="460.76" cy="396.42" r="2.4"/><circle cx="462.89" cy="391.72" r="2.4"/><circle cx="465.03" cy="403.46" r="2.4"/><circle cx="467.16" cy="406.59" r="2.4"/><circle cx="469.30" cy="378.42" r="2.4"/><circle cx="471.43" cy="365.91" r="2.4"/><circle cx="473.57" cy="363.56" r="2.4"/><circle cx="475.70" cy="394.85" r="2.4"/><circle cx="477.84" cy="423.02" r="2.4"/><circle cx="479.97" cy="429.27" r="2.4"/><circle cx="482.11" cy="426.93" r="2.4"/><circle cx="484.24" cy="423.80" r="2.4"/><circle cx="486.38" cy="369.82" r="2.4"/><circle cx="488.51" cy="378.42" r="2.4"/><circle cx="490.65" cy="392.51" r="2.4"/><circle cx="492.78" cy="430.06" r="2.4"/><circle cx="494.92" cy="419.89" r="2.4"/><circle cx="497.05" cy="431.62" r="2.4"/><circle cx="499.19" cy="390.16" r="2.4"/><circle cx="501.32" cy="407.37" r="2.4"/><circle cx="503.46" cy="409.72" r="2.4"/><circle cx="505.59" cy="412.06" r="2.4"/><circle cx="507.73" cy="442.57" r="2.4"/><circle cx="509.86" cy="432.40" r="2.4"/><circle cx="512.00" cy="413.63" r="2.4"/><circle cx="514.13" cy="405.81" r="2.4"/><circle cx="516.27" cy="417.54" r="2.4"/><circle cx="518.40" cy="415.19" r="2.4"/><circle cx="520.54" cy="438.66" r="2.4"/><circle cx="522.67" cy="444.92" r="2.4"/><circle cx="524.81" cy="425.36" r="2.4"/><circle cx="526.94" cy="436.32" r="2.4"/><circle cx="529.08" cy="413.63" r="2.4"/><circle cx="531.21" cy="441.79" r="2.4"/><circle cx="533.35" cy="423.80" r="2.4"/><circle cx="535.48" cy="442.57" r="2.4"/><circle cx="537.62" cy="454.31" r="2.4"/><circle cx="539.75" cy="427.71" r="2.4"/><circle cx="541.88" cy="435.53" r="2.4"/><circle cx="544.02" cy="394.07" r="2.4"/><circle cx="546.15" cy="410.50" r="2.4"/><circle cx="548.29" cy="394.85" r="2.4"/><circle cx="550.42" cy="437.10" r="2.4"/><circle cx="552.56" cy="450.40" r="2.4"/><circle cx="554.69" cy="408.93" r="2.4"/><circle cx="556.83" cy="421.45" r="2.4"/><circle cx="558.96" cy="420.67" r="2.4"/><circle cx="561.10" cy="405.81" r="2.4"/><circle cx="563.23" cy="414.41" r="2.4"/><circle cx="565.37" cy="430.84" r="2.4"/><circle cx="567.50" cy="452.74" r="2.4"/><circle cx="569.64" cy="451.96" r="2.4"/><circle cx="571.77" cy="460.57" r="2.4"/><circle cx="573.91" cy="394.85" r="2.4"/><circle cx="576.04" cy="406.59" r="2.4"/><circle cx="578.18" cy="397.98" r="2.4"/><circle cx="580.31" cy="437.88" r="2.4"/><circle cx="582.45" cy="454.31" r="2.4"/><circle cx="584.58" cy="417.54" r="2.4"/><circle cx="586.72" cy="407.37" r="2.4"/><circle cx="588.85" cy="385.47" r="2.4"/><circle cx="590.99" cy="413.63" r="2.4"/><circle cx="593.12" cy="417.54" r="2.4"/><circle cx="595.26" cy="448.83" r="2.4"/><circle cx="597.39" cy="459.78" r="2.4"/><circle cx="599.53" cy="441.01" r="2.4"/><circle cx="601.66" cy="447.27" r="2.4"/><circle cx="603.80" cy="413.63" r="2.4"/><circle cx="605.93" cy="420.67" r="2.4"/><circle cx="608.07" cy="397.98" r="2.4"/><circle cx="610.20" cy="440.23" r="2.4"/><circle cx="612.34" cy="454.31" r="2.4"/><circle cx="614.47" cy="436.32" r="2.4"/><circle cx="616.61" cy="417.54" r="2.4"/><circle cx="618.74" cy="387.81" r="2.4"/><circle cx="620.88" cy="421.45" r="2.4"/><circle cx="623.01" cy="404.24" r="2.4"/><circle cx="625.14" cy="443.36" r="2.4"/><circle cx="627.28" cy="451.96" r="2.4"/><circle cx="629.41" cy="433.97" r="2.4"/><circle cx="631.55" cy="441.01" r="2.4"/><circle cx="633.68" cy="428.49" r="2.4"/><circle cx="635.82" cy="421.45" r="2.4"/><circle cx="637.95" cy="408.15" r="2.4"/><circle cx="640.09" cy="434.75" r="2.4"/><circle cx="642.22" cy="443.36" r="2.4"/><circle cx="644.36" cy="426.15" r="2.4"/><circle cx="646.49" cy="415.98" r="2.4"/><circle cx="648.63" cy="411.28" r="2.4"/><circle cx="650.76" cy="408.15" r="2.4"/><circle cx="652.90" cy="420.67" r="2.4"/><circle cx="655.03" cy="442.57" r="2.4"/><circle cx="657.17" cy="457.44" r="2.4"/><circle cx="659.30" cy="411.28" r="2.4"/><circle cx="661.44" cy="432.40" r="2.4"/><circle cx="663.57" cy="394.85" r="2.4"/><circle cx="665.71" cy="417.54" r="2.4"/><circle cx="667.84" cy="388.59" r="2.4"/><circle cx="669.98" cy="418.32" r="2.4"/><circle cx="672.11" cy="415.98" r="2.4"/><circle cx="674.25" cy="393.29" r="2.4"/><circle cx="676.38" cy="378.42" r="2.4"/><circle cx="678.52" cy="360.43" r="2.4"/><circle cx="680.65" cy="343.22" r="2.4"/><circle cx="682.79" cy="369.04" r="2.4"/><circle cx="684.92" cy="396.42" r="2.4"/><circle cx="687.06" cy="426.93" r="2.4"/><circle cx="689.19" cy="396.42" r="2.4"/><circle cx="691.33" cy="321.32" r="2.4"/><circle cx="693.46" cy="236.05" r="2.4"/><circle cx="695.60" cy="254.04" r="2.4"/><circle cx="697.73" cy="225.88" r="2.4"/><circle cx="699.87" cy="322.88" r="2.4"/></g>
</svg></body></html>
